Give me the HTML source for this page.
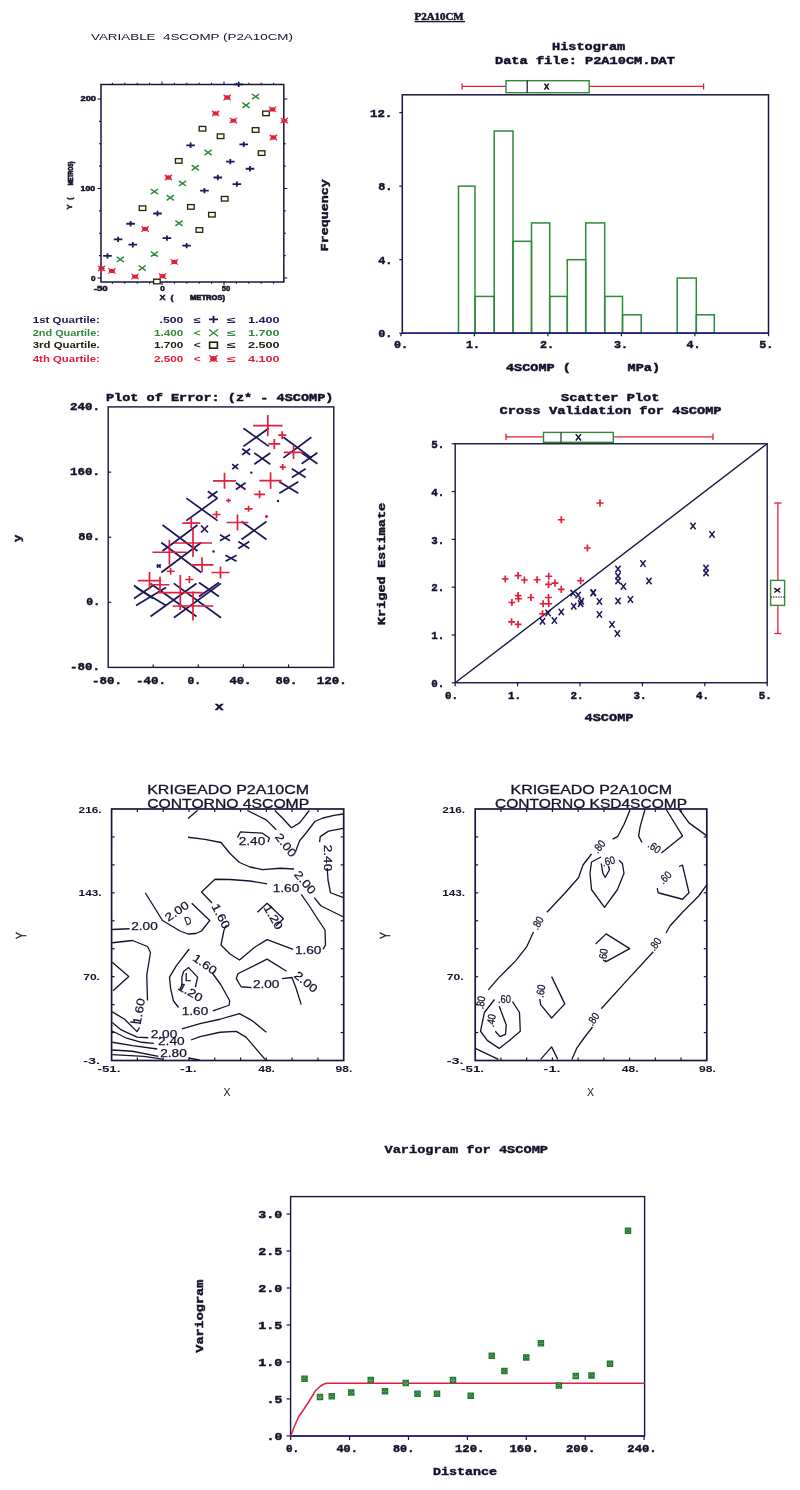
<!DOCTYPE html>
<html><head><meta charset="utf-8"><title>P2A10CM</title>
<style>
html,body{margin:0;padding:0;background:#fff;}
body{width:800px;height:1490px;overflow:hidden;}
svg{display:block;}
</style></head>
<body>
<svg width="800" height="1490" viewBox="0 0 800 1490">
<rect x="0" y="0" width="800" height="1490" fill="#ffffff"/>
<text x="414.6" y="20" font-size="10" font-family="'Liberation Serif', 'DejaVu Serif', serif" fill="#15112a" stroke="#15112a" stroke-width="0.45" font-weight="bold" textLength="49" lengthAdjust="spacingAndGlyphs" xml:space="preserve">P2A10CM</text>
<line x1="414.6" y1="21.6" x2="465" y2="21.6" stroke="#15112a" stroke-width="1.1"/>
<text x="91" y="40.2" font-size="9.8" font-family="'Liberation Sans', 'DejaVu Sans', sans-serif" fill="#15112a" textLength="202" lengthAdjust="spacingAndGlyphs" xml:space="preserve">VARIABLE  4SCOMP (P2A10CM)</text>
<rect x="101" y="84.5" width="182.8" height="197.5" stroke="#1a1540" stroke-width="1.5" fill="none"/>
<line x1="97.5" y1="278" x2="101" y2="278" stroke="#1a1540" stroke-width="1.1"/>
<line x1="283.8" y1="278" x2="287.3" y2="278" stroke="#1a1540" stroke-width="1.1"/>
<line x1="99" y1="255.62" x2="101" y2="255.62" stroke="#1a1540" stroke-width="1.1"/>
<line x1="283.8" y1="255.62" x2="285.8" y2="255.62" stroke="#1a1540" stroke-width="1.1"/>
<line x1="99" y1="233.25" x2="101" y2="233.25" stroke="#1a1540" stroke-width="1.1"/>
<line x1="283.8" y1="233.25" x2="285.8" y2="233.25" stroke="#1a1540" stroke-width="1.1"/>
<line x1="99" y1="210.88" x2="101" y2="210.88" stroke="#1a1540" stroke-width="1.1"/>
<line x1="283.8" y1="210.88" x2="285.8" y2="210.88" stroke="#1a1540" stroke-width="1.1"/>
<line x1="97.5" y1="188.5" x2="101" y2="188.5" stroke="#1a1540" stroke-width="1.1"/>
<line x1="283.8" y1="188.5" x2="287.3" y2="188.5" stroke="#1a1540" stroke-width="1.1"/>
<line x1="99" y1="166.12" x2="101" y2="166.12" stroke="#1a1540" stroke-width="1.1"/>
<line x1="283.8" y1="166.12" x2="285.8" y2="166.12" stroke="#1a1540" stroke-width="1.1"/>
<line x1="99" y1="143.75" x2="101" y2="143.75" stroke="#1a1540" stroke-width="1.1"/>
<line x1="283.8" y1="143.75" x2="285.8" y2="143.75" stroke="#1a1540" stroke-width="1.1"/>
<line x1="99" y1="121.38" x2="101" y2="121.38" stroke="#1a1540" stroke-width="1.1"/>
<line x1="283.8" y1="121.38" x2="285.8" y2="121.38" stroke="#1a1540" stroke-width="1.1"/>
<line x1="97.5" y1="99" x2="101" y2="99" stroke="#1a1540" stroke-width="1.1"/>
<line x1="283.8" y1="99" x2="287.3" y2="99" stroke="#1a1540" stroke-width="1.1"/>
<line x1="112.4" y1="282" x2="112.4" y2="283.8" stroke="#1a1540" stroke-width="1.1"/>
<line x1="112.4" y1="84.5" x2="112.4" y2="82.7" stroke="#1a1540" stroke-width="1.1"/>
<line x1="124.8" y1="282" x2="124.8" y2="283.8" stroke="#1a1540" stroke-width="1.1"/>
<line x1="124.8" y1="84.5" x2="124.8" y2="82.7" stroke="#1a1540" stroke-width="1.1"/>
<line x1="137.2" y1="282" x2="137.2" y2="283.8" stroke="#1a1540" stroke-width="1.1"/>
<line x1="137.2" y1="84.5" x2="137.2" y2="82.7" stroke="#1a1540" stroke-width="1.1"/>
<line x1="149.6" y1="282" x2="149.6" y2="283.8" stroke="#1a1540" stroke-width="1.1"/>
<line x1="149.6" y1="84.5" x2="149.6" y2="82.7" stroke="#1a1540" stroke-width="1.1"/>
<line x1="162" y1="282" x2="162" y2="285" stroke="#1a1540" stroke-width="1.1"/>
<line x1="162" y1="84.5" x2="162" y2="81.5" stroke="#1a1540" stroke-width="1.1"/>
<line x1="174.4" y1="282" x2="174.4" y2="283.8" stroke="#1a1540" stroke-width="1.1"/>
<line x1="174.4" y1="84.5" x2="174.4" y2="82.7" stroke="#1a1540" stroke-width="1.1"/>
<line x1="186.8" y1="282" x2="186.8" y2="283.8" stroke="#1a1540" stroke-width="1.1"/>
<line x1="186.8" y1="84.5" x2="186.8" y2="82.7" stroke="#1a1540" stroke-width="1.1"/>
<line x1="199.2" y1="282" x2="199.2" y2="283.8" stroke="#1a1540" stroke-width="1.1"/>
<line x1="199.2" y1="84.5" x2="199.2" y2="82.7" stroke="#1a1540" stroke-width="1.1"/>
<line x1="211.6" y1="282" x2="211.6" y2="283.8" stroke="#1a1540" stroke-width="1.1"/>
<line x1="211.6" y1="84.5" x2="211.6" y2="82.7" stroke="#1a1540" stroke-width="1.1"/>
<line x1="224" y1="282" x2="224" y2="285" stroke="#1a1540" stroke-width="1.1"/>
<line x1="224" y1="84.5" x2="224" y2="81.5" stroke="#1a1540" stroke-width="1.1"/>
<line x1="236.4" y1="282" x2="236.4" y2="283.8" stroke="#1a1540" stroke-width="1.1"/>
<line x1="236.4" y1="84.5" x2="236.4" y2="82.7" stroke="#1a1540" stroke-width="1.1"/>
<line x1="248.8" y1="282" x2="248.8" y2="283.8" stroke="#1a1540" stroke-width="1.1"/>
<line x1="248.8" y1="84.5" x2="248.8" y2="82.7" stroke="#1a1540" stroke-width="1.1"/>
<line x1="261.2" y1="282" x2="261.2" y2="283.8" stroke="#1a1540" stroke-width="1.1"/>
<line x1="261.2" y1="84.5" x2="261.2" y2="82.7" stroke="#1a1540" stroke-width="1.1"/>
<line x1="273.6" y1="282" x2="273.6" y2="283.8" stroke="#1a1540" stroke-width="1.1"/>
<line x1="273.6" y1="84.5" x2="273.6" y2="82.7" stroke="#1a1540" stroke-width="1.1"/>
<text x="80.5" y="101.2" font-size="7.5" font-family="'Liberation Sans', 'DejaVu Sans', sans-serif" fill="#15112a" stroke="#15112a" stroke-width="0.5" font-weight="bold" textLength="15.5" lengthAdjust="spacingAndGlyphs" xml:space="preserve">200</text>
<text x="80.6" y="191.2" font-size="7.5" font-family="'Liberation Sans', 'DejaVu Sans', sans-serif" fill="#15112a" stroke="#15112a" stroke-width="0.5" font-weight="bold" textLength="14.6" lengthAdjust="spacingAndGlyphs" xml:space="preserve">100</text>
<text x="91" y="280.8" font-size="7.5" font-family="'Liberation Sans', 'DejaVu Sans', sans-serif" fill="#15112a" stroke="#15112a" stroke-width="0.5" font-weight="bold" textLength="4.5" lengthAdjust="spacingAndGlyphs" xml:space="preserve">0</text>
<text x="93.7" y="291.4" font-size="7.5" font-family="'Liberation Sans', 'DejaVu Sans', sans-serif" fill="#15112a" stroke="#15112a" stroke-width="0.5" font-weight="bold" textLength="14" lengthAdjust="spacingAndGlyphs" xml:space="preserve">-50</text>
<text x="160.3" y="291.4" font-size="7.5" font-family="'Liberation Sans', 'DejaVu Sans', sans-serif" fill="#15112a" stroke="#15112a" stroke-width="0.5" font-weight="bold" textLength="4.5" lengthAdjust="spacingAndGlyphs" xml:space="preserve">0</text>
<text x="221.7" y="291.4" font-size="7.5" font-family="'Liberation Sans', 'DejaVu Sans', sans-serif" fill="#15112a" stroke="#15112a" stroke-width="0.5" font-weight="bold" textLength="8.5" lengthAdjust="spacingAndGlyphs" xml:space="preserve">50</text>
<text x="159.5" y="300.3" font-size="7" font-family="'Liberation Sans', 'DejaVu Sans', sans-serif" fill="#15112a" stroke="#15112a" stroke-width="0.4" font-weight="bold" textLength="14" lengthAdjust="spacingAndGlyphs" xml:space="preserve">X  (</text>
<text x="190" y="300.3" font-size="7" font-family="'Liberation Sans', 'DejaVu Sans', sans-serif" fill="#15112a" stroke="#15112a" stroke-width="0.6" font-weight="bold" textLength="35" lengthAdjust="spacingAndGlyphs" xml:space="preserve">METROS)</text>
<text x="72.5" y="209.4" font-size="7" font-family="'Liberation Sans', 'DejaVu Sans', sans-serif" fill="#15112a" stroke="#15112a" stroke-width="0.4" font-weight="bold" textLength="12" lengthAdjust="spacingAndGlyphs" transform="rotate(-90 72.5 209.4)" xml:space="preserve">Y  (</text>
<text x="72.8" y="185.2" font-size="7" font-family="'Liberation Sans', 'DejaVu Sans', sans-serif" fill="#15112a" stroke="#15112a" stroke-width="0.7" font-weight="bold" textLength="23.6" lengthAdjust="spacingAndGlyphs" transform="rotate(-90 72.8 185.2)" xml:space="preserve">METROS)</text>
<path d="M103.2 255.9H111.8M107.5 253.2V258.6" stroke="#1f165c" stroke-width="1.8"/>
<path d="M113.8 239.4H122.4M118.1 236.7V242.1" stroke="#1f165c" stroke-width="1.8"/>
<path d="M126.3 223.75H134.9M130.6 221.05V226.45" stroke="#1f165c" stroke-width="1.8"/>
<path d="M128.5 244.7H137.1M132.8 242V247.4" stroke="#1f165c" stroke-width="1.8"/>
<path d="M153.2 213.5H161.8M157.5 210.8V216.2" stroke="#1f165c" stroke-width="1.8"/>
<path d="M162.6 238.1H171.2M166.9 235.4V240.8" stroke="#1f165c" stroke-width="1.8"/>
<path d="M182.3 245.6H190.9M186.6 242.9V248.3" stroke="#1f165c" stroke-width="1.8"/>
<path d="M186.3 145.3H194.9M190.6 142.6V148" stroke="#1f165c" stroke-width="1.8"/>
<path d="M200.1 190.6H208.7M204.4 187.9V193.3" stroke="#1f165c" stroke-width="1.8"/>
<path d="M213.5 177.5H222.1M217.8 174.8V180.2" stroke="#1f165c" stroke-width="1.8"/>
<path d="M226 161.6H234.6M230.3 158.9V164.3" stroke="#1f165c" stroke-width="1.8"/>
<path d="M232.6 184.1H241.2M236.9 181.4V186.8" stroke="#1f165c" stroke-width="1.8"/>
<path d="M239.45 144.4H248.05M243.75 141.7V147.1" stroke="#1f165c" stroke-width="1.8"/>
<path d="M245.7 168.75H254.3M250 166.05V171.45" stroke="#1f165c" stroke-width="1.8"/>
<path d="M234.45 84.4H243.05M238.75 81.7V87.1" stroke="#1f165c" stroke-width="1.8"/>
<path d="M116.7 256.8L123.9 262M116.7 262L123.9 256.8" stroke="#2f8a3a" stroke-width="1.5"/>
<path d="M138.6 265.5L145.8 270.7M138.6 270.7L145.8 265.5" stroke="#2f8a3a" stroke-width="1.5"/>
<path d="M150.8 251.5L158 256.7M150.8 256.7L158 251.5" stroke="#2f8a3a" stroke-width="1.5"/>
<path d="M150.8 189L158 194.2M150.8 194.2L158 189" stroke="#2f8a3a" stroke-width="1.5"/>
<path d="M166.7 195.2L173.9 200.4M166.7 200.4L173.9 195.2" stroke="#2f8a3a" stroke-width="1.5"/>
<path d="M175.4 220.6L182.6 225.8M175.4 225.8L182.6 220.6" stroke="#2f8a3a" stroke-width="1.5"/>
<path d="M178.9 180.8L186.1 186M178.9 186L186.1 180.8" stroke="#2f8a3a" stroke-width="1.5"/>
<path d="M191.7 165.2L198.9 170.4M191.7 170.4L198.9 165.2" stroke="#2f8a3a" stroke-width="1.5"/>
<path d="M204.5 149.9L211.7 155.1M204.5 155.1L211.7 149.9" stroke="#2f8a3a" stroke-width="1.5"/>
<path d="M242.4 102.7L249.6 107.9M242.4 107.9L249.6 102.7" stroke="#2f8a3a" stroke-width="1.5"/>
<path d="M252 94L259.2 99.2M252 99.2L259.2 94" stroke="#2f8a3a" stroke-width="1.5"/>
<rect x="139.2" y="205.9" width="6.6" height="4.6" stroke="#23210f" stroke-width="1.3" fill="#fdfbe6"/>
<rect x="153.6" y="279.2" width="6.6" height="4.6" stroke="#23210f" stroke-width="1.3" fill="#fdfbe6"/>
<rect x="175.45" y="158.6" width="6.6" height="4.6" stroke="#23210f" stroke-width="1.3" fill="#fdfbe6"/>
<rect x="187.6" y="204.6" width="6.6" height="4.6" stroke="#23210f" stroke-width="1.3" fill="#fdfbe6"/>
<rect x="196.1" y="227.7" width="6.6" height="4.6" stroke="#23210f" stroke-width="1.3" fill="#fdfbe6"/>
<rect x="199.2" y="126.45" width="6.6" height="4.6" stroke="#23210f" stroke-width="1.3" fill="#fdfbe6"/>
<rect x="208.6" y="212.4" width="6.6" height="4.6" stroke="#23210f" stroke-width="1.3" fill="#fdfbe6"/>
<rect x="217.3" y="133.95" width="6.6" height="4.6" stroke="#23210f" stroke-width="1.3" fill="#fdfbe6"/>
<rect x="221.4" y="196.45" width="6.6" height="4.6" stroke="#23210f" stroke-width="1.3" fill="#fdfbe6"/>
<rect x="252.3" y="127.7" width="6.6" height="4.6" stroke="#23210f" stroke-width="1.3" fill="#fdfbe6"/>
<rect x="258.3" y="150.8" width="6.6" height="4.6" stroke="#23210f" stroke-width="1.3" fill="#fdfbe6"/>
<rect x="262.7" y="111.1" width="6.6" height="4.6" stroke="#23210f" stroke-width="1.3" fill="#fdfbe6"/>
<ellipse cx="101.5" cy="268.4" rx="3.0" ry="2.2" fill="#e0203c"/>
<path d="M97.8 265.7L105.2 271.1M97.8 271.1L105.2 265.7" stroke="#e0203c" stroke-width="1.1"/>
<ellipse cx="111.9" cy="270.9" rx="3.0" ry="2.2" fill="#e0203c"/>
<path d="M108.2 268.2L115.6 273.6M108.2 273.6L115.6 268.2" stroke="#e0203c" stroke-width="1.1"/>
<ellipse cx="135" cy="276.6" rx="3.0" ry="2.2" fill="#e0203c"/>
<path d="M131.3 273.9L138.7 279.3M131.3 279.3L138.7 273.9" stroke="#e0203c" stroke-width="1.1"/>
<ellipse cx="145.1" cy="229" rx="3.0" ry="2.2" fill="#e0203c"/>
<path d="M141.4 226.3L148.8 231.7M141.4 231.7L148.8 226.3" stroke="#e0203c" stroke-width="1.1"/>
<ellipse cx="162.5" cy="276.25" rx="3.0" ry="2.2" fill="#e0203c"/>
<path d="M158.8 273.55L166.2 278.95M158.8 278.95L166.2 273.55" stroke="#e0203c" stroke-width="1.1"/>
<ellipse cx="168.4" cy="177.5" rx="3.0" ry="2.2" fill="#e0203c"/>
<path d="M164.7 174.8L172.1 180.2M164.7 180.2L172.1 174.8" stroke="#e0203c" stroke-width="1.1"/>
<ellipse cx="174.4" cy="261.9" rx="3.0" ry="2.2" fill="#e0203c"/>
<path d="M170.7 259.2L178.1 264.6M170.7 264.6L178.1 259.2" stroke="#e0203c" stroke-width="1.1"/>
<ellipse cx="215.6" cy="113.4" rx="3.0" ry="2.2" fill="#e0203c"/>
<path d="M211.9 110.7L219.3 116.1M211.9 116.1L219.3 110.7" stroke="#e0203c" stroke-width="1.1"/>
<ellipse cx="227.2" cy="97.5" rx="3.0" ry="2.2" fill="#e0203c"/>
<path d="M223.5 94.8L230.9 100.2M223.5 100.2L230.9 94.8" stroke="#e0203c" stroke-width="1.1"/>
<ellipse cx="233.4" cy="120.6" rx="3.0" ry="2.2" fill="#e0203c"/>
<path d="M229.7 117.9L237.1 123.3M229.7 123.3L237.1 117.9" stroke="#e0203c" stroke-width="1.1"/>
<ellipse cx="272.5" cy="109.4" rx="3.0" ry="2.2" fill="#e0203c"/>
<path d="M268.8 106.7L276.2 112.1M268.8 112.1L276.2 106.7" stroke="#e0203c" stroke-width="1.1"/>
<ellipse cx="273.4" cy="137.5" rx="3.0" ry="2.2" fill="#e0203c"/>
<path d="M269.7 134.8L277.1 140.2M269.7 140.2L277.1 134.8" stroke="#e0203c" stroke-width="1.1"/>
<ellipse cx="284.4" cy="120.6" rx="3.0" ry="2.2" fill="#e0203c"/>
<path d="M280.7 117.9L288.1 123.3M280.7 123.3L288.1 117.9" stroke="#e0203c" stroke-width="1.1"/>
<text x="32.8" y="322.5" font-size="8.4" font-family="'Liberation Sans', 'DejaVu Sans', sans-serif" fill="#1f165c" font-weight="bold" textLength="67" lengthAdjust="spacingAndGlyphs" xml:space="preserve">1st Quartile:</text>
<text x="159.6" y="322.5" font-size="8.4" font-family="'Liberation Sans', 'DejaVu Sans', sans-serif" fill="#1f165c" font-weight="bold" textLength="23.7" lengthAdjust="spacingAndGlyphs" xml:space="preserve">.500</text>
<text x="193.7" y="322.5" font-size="8.4" font-family="'Liberation Sans', 'DejaVu Sans', sans-serif" fill="#1f165c" font-weight="bold" textLength="7" lengthAdjust="spacingAndGlyphs" xml:space="preserve">≤</text>
<text x="227" y="322.5" font-size="8.4" font-family="'Liberation Sans', 'DejaVu Sans', sans-serif" fill="#1f165c" font-weight="bold" textLength="8.8" lengthAdjust="spacingAndGlyphs" xml:space="preserve">≤</text>
<text x="248" y="322.5" font-size="8.4" font-family="'Liberation Sans', 'DejaVu Sans', sans-serif" fill="#1f165c" font-weight="bold" textLength="31.5" lengthAdjust="spacingAndGlyphs" xml:space="preserve">1.400</text>
<path d="M209 319.3H218M213.5 315.7V322.9" stroke="#1f165c" stroke-width="1.8"/>
<text x="32.8" y="336" font-size="8.4" font-family="'Liberation Sans', 'DejaVu Sans', sans-serif" fill="#2f8a3a" font-weight="bold" textLength="67" lengthAdjust="spacingAndGlyphs" xml:space="preserve">2nd Quartile:</text>
<text x="153.9" y="336" font-size="8.4" font-family="'Liberation Sans', 'DejaVu Sans', sans-serif" fill="#2f8a3a" font-weight="bold" textLength="29.4" lengthAdjust="spacingAndGlyphs" xml:space="preserve">1.400</text>
<text x="193.7" y="336" font-size="8.4" font-family="'Liberation Sans', 'DejaVu Sans', sans-serif" fill="#2f8a3a" font-weight="bold" textLength="7" lengthAdjust="spacingAndGlyphs" xml:space="preserve">&lt;</text>
<text x="227" y="336" font-size="8.4" font-family="'Liberation Sans', 'DejaVu Sans', sans-serif" fill="#2f8a3a" font-weight="bold" textLength="8.8" lengthAdjust="spacingAndGlyphs" xml:space="preserve">≤</text>
<text x="248" y="336" font-size="8.4" font-family="'Liberation Sans', 'DejaVu Sans', sans-serif" fill="#2f8a3a" font-weight="bold" textLength="31.5" lengthAdjust="spacingAndGlyphs" xml:space="preserve">1.700</text>
<path d="M209 329.4L218 336.2M209 336.2L218 329.4" stroke="#2f8a3a" stroke-width="1.3"/>
<text x="32.8" y="348.4" font-size="8.4" font-family="'Liberation Sans', 'DejaVu Sans', sans-serif" fill="#23210f" font-weight="bold" textLength="67" lengthAdjust="spacingAndGlyphs" xml:space="preserve">3rd Quartile.</text>
<text x="153.9" y="348.4" font-size="8.4" font-family="'Liberation Sans', 'DejaVu Sans', sans-serif" fill="#23210f" font-weight="bold" textLength="29.4" lengthAdjust="spacingAndGlyphs" xml:space="preserve">1.700</text>
<text x="193.7" y="348.4" font-size="8.4" font-family="'Liberation Sans', 'DejaVu Sans', sans-serif" fill="#23210f" font-weight="bold" textLength="7" lengthAdjust="spacingAndGlyphs" xml:space="preserve">&lt;</text>
<text x="227" y="348.4" font-size="8.4" font-family="'Liberation Sans', 'DejaVu Sans', sans-serif" fill="#23210f" font-weight="bold" textLength="8.8" lengthAdjust="spacingAndGlyphs" xml:space="preserve">≤</text>
<text x="248" y="348.4" font-size="8.4" font-family="'Liberation Sans', 'DejaVu Sans', sans-serif" fill="#23210f" font-weight="bold" textLength="31.5" lengthAdjust="spacingAndGlyphs" xml:space="preserve">2.500</text>
<rect x="209.6" y="342.2" width="7.8" height="6" stroke="#23210f" stroke-width="1.6" fill="#fdfbe6"/>
<text x="32.8" y="361.9" font-size="8.4" font-family="'Liberation Sans', 'DejaVu Sans', sans-serif" fill="#e0203c" font-weight="bold" textLength="67" lengthAdjust="spacingAndGlyphs" xml:space="preserve">4th Quartile:</text>
<text x="153.9" y="361.9" font-size="8.4" font-family="'Liberation Sans', 'DejaVu Sans', sans-serif" fill="#e0203c" font-weight="bold" textLength="29.4" lengthAdjust="spacingAndGlyphs" xml:space="preserve">2.500</text>
<text x="193.7" y="361.9" font-size="8.4" font-family="'Liberation Sans', 'DejaVu Sans', sans-serif" fill="#e0203c" font-weight="bold" textLength="7" lengthAdjust="spacingAndGlyphs" xml:space="preserve">&lt;</text>
<text x="227" y="361.9" font-size="8.4" font-family="'Liberation Sans', 'DejaVu Sans', sans-serif" fill="#e0203c" font-weight="bold" textLength="8.8" lengthAdjust="spacingAndGlyphs" xml:space="preserve">≤</text>
<text x="248" y="361.9" font-size="8.4" font-family="'Liberation Sans', 'DejaVu Sans', sans-serif" fill="#e0203c" font-weight="bold" textLength="31.5" lengthAdjust="spacingAndGlyphs" xml:space="preserve">4.100</text>
<ellipse cx="213.5" cy="358.7" rx="3.4" ry="2.8" fill="#e0203c"/>
<path d="M209.3 355.3L217.7 362.1M209.3 362.1L217.7 355.3" stroke="#e0203c" stroke-width="1.2"/>
<text x="552" y="50.1" font-size="11" font-family="'Liberation Mono', 'DejaVu Sans Mono', monospace" fill="#15112a" stroke="#15112a" stroke-width="0.45" font-weight="bold" textLength="73.2" lengthAdjust="spacingAndGlyphs" xml:space="preserve">Histogram</text>
<text x="495" y="63.6" font-size="11" font-family="'Liberation Mono', 'DejaVu Sans Mono', monospace" fill="#15112a" stroke="#15112a" stroke-width="0.45" font-weight="bold" textLength="180" lengthAdjust="spacingAndGlyphs" xml:space="preserve">Data file: P2A10CM.DAT</text>
<rect x="458.5" y="186.16" width="16.5" height="147.04" stroke="#2f8a3a" stroke-width="1.5" fill="none"/>
<rect x="475" y="296.44" width="19.2" height="36.76" stroke="#2f8a3a" stroke-width="1.5" fill="none"/>
<rect x="494.2" y="131.02" width="18.8" height="202.18" stroke="#2f8a3a" stroke-width="1.5" fill="none"/>
<rect x="513" y="241.3" width="18.5" height="91.9" stroke="#2f8a3a" stroke-width="1.5" fill="none"/>
<rect x="531.5" y="222.92" width="18.2" height="110.28" stroke="#2f8a3a" stroke-width="1.5" fill="none"/>
<rect x="549.7" y="296.44" width="17.6" height="36.76" stroke="#2f8a3a" stroke-width="1.5" fill="none"/>
<rect x="567.3" y="259.68" width="18.4" height="73.52" stroke="#2f8a3a" stroke-width="1.5" fill="none"/>
<rect x="585.7" y="222.92" width="19" height="110.28" stroke="#2f8a3a" stroke-width="1.5" fill="none"/>
<rect x="604.7" y="296.44" width="17.8" height="36.76" stroke="#2f8a3a" stroke-width="1.5" fill="none"/>
<rect x="622.5" y="314.82" width="18.7" height="18.38" stroke="#2f8a3a" stroke-width="1.5" fill="none"/>
<rect x="677.2" y="278.06" width="19.1" height="55.14" stroke="#2f8a3a" stroke-width="1.5" fill="none"/>
<rect x="696.3" y="314.82" width="18" height="18.38" stroke="#2f8a3a" stroke-width="1.5" fill="none"/>
<rect x="402.3" y="94.8" width="366.2" height="238.4" stroke="#1a1540" stroke-width="1.5" fill="none"/>
<line x1="402.3" y1="333.2" x2="768.5" y2="333.2" stroke="#2a1a8a" stroke-width="1.6"/>
<line x1="399.3" y1="333.2" x2="402.3" y2="333.2" stroke="#1a1540" stroke-width="1.2"/>
<line x1="399.3" y1="259.68" x2="402.3" y2="259.68" stroke="#1a1540" stroke-width="1.2"/>
<line x1="399.3" y1="186.16" x2="402.3" y2="186.16" stroke="#1a1540" stroke-width="1.2"/>
<line x1="399.3" y1="112.64" x2="402.3" y2="112.64" stroke="#1a1540" stroke-width="1.2"/>
<line x1="400.9" y1="333.2" x2="400.9" y2="336.2" stroke="#1a1540" stroke-width="1.2"/>
<line x1="474.4" y1="333.2" x2="474.4" y2="336.2" stroke="#1a1540" stroke-width="1.2"/>
<line x1="547.9" y1="333.2" x2="547.9" y2="336.2" stroke="#1a1540" stroke-width="1.2"/>
<line x1="621.4" y1="333.2" x2="621.4" y2="336.2" stroke="#1a1540" stroke-width="1.2"/>
<line x1="694.9" y1="333.2" x2="694.9" y2="336.2" stroke="#1a1540" stroke-width="1.2"/>
<line x1="768.5" y1="333.2" x2="768.5" y2="336.2" stroke="#1a1540" stroke-width="1.2"/>
<text x="370" y="116.6" font-size="11" font-family="'Liberation Mono', 'DejaVu Sans Mono', monospace" fill="#15112a" stroke="#15112a" stroke-width="0.45" font-weight="bold" textLength="22.3" lengthAdjust="spacingAndGlyphs" xml:space="preserve">12.</text>
<text x="378.2" y="190.3" font-size="11" font-family="'Liberation Mono', 'DejaVu Sans Mono', monospace" fill="#15112a" stroke="#15112a" stroke-width="0.45" font-weight="bold" textLength="14.2" lengthAdjust="spacingAndGlyphs" xml:space="preserve">8.</text>
<text x="378.2" y="264.2" font-size="11" font-family="'Liberation Mono', 'DejaVu Sans Mono', monospace" fill="#15112a" stroke="#15112a" stroke-width="0.45" font-weight="bold" textLength="14.2" lengthAdjust="spacingAndGlyphs" xml:space="preserve">4.</text>
<text x="378.2" y="337" font-size="11" font-family="'Liberation Mono', 'DejaVu Sans Mono', monospace" fill="#15112a" stroke="#15112a" stroke-width="0.45" font-weight="bold" textLength="14.2" lengthAdjust="spacingAndGlyphs" xml:space="preserve">0.</text>
<text x="394" y="348" font-size="11" font-family="'Liberation Mono', 'DejaVu Sans Mono', monospace" fill="#15112a" stroke="#15112a" stroke-width="0.45" font-weight="bold" textLength="14" lengthAdjust="spacingAndGlyphs" xml:space="preserve">0.</text>
<text x="466" y="348" font-size="11" font-family="'Liberation Mono', 'DejaVu Sans Mono', monospace" fill="#15112a" stroke="#15112a" stroke-width="0.45" font-weight="bold" textLength="14" lengthAdjust="spacingAndGlyphs" xml:space="preserve">1.</text>
<text x="540" y="348" font-size="11" font-family="'Liberation Mono', 'DejaVu Sans Mono', monospace" fill="#15112a" stroke="#15112a" stroke-width="0.45" font-weight="bold" textLength="14" lengthAdjust="spacingAndGlyphs" xml:space="preserve">2.</text>
<text x="614" y="348" font-size="11" font-family="'Liberation Mono', 'DejaVu Sans Mono', monospace" fill="#15112a" stroke="#15112a" stroke-width="0.45" font-weight="bold" textLength="14" lengthAdjust="spacingAndGlyphs" xml:space="preserve">3.</text>
<text x="686.6" y="348" font-size="11" font-family="'Liberation Mono', 'DejaVu Sans Mono', monospace" fill="#15112a" stroke="#15112a" stroke-width="0.45" font-weight="bold" textLength="14" lengthAdjust="spacingAndGlyphs" xml:space="preserve">4.</text>
<text x="759.3" y="348" font-size="11" font-family="'Liberation Mono', 'DejaVu Sans Mono', monospace" fill="#15112a" stroke="#15112a" stroke-width="0.45" font-weight="bold" textLength="14" lengthAdjust="spacingAndGlyphs" xml:space="preserve">5.</text>
<text x="328" y="251.2" font-size="11" font-family="'Liberation Mono', 'DejaVu Sans Mono', monospace" fill="#15112a" stroke="#15112a" stroke-width="0.45" font-weight="bold" textLength="72" lengthAdjust="spacingAndGlyphs" transform="rotate(-90 328 251.2)" xml:space="preserve">Frequency</text>
<text x="506" y="370.8" font-size="10.5" font-family="'Liberation Mono', 'DejaVu Sans Mono', monospace" fill="#15112a" stroke="#15112a" stroke-width="0.45" font-weight="bold" textLength="154" lengthAdjust="spacingAndGlyphs" xml:space="preserve">4SCOMP (       MPa)</text>
<line x1="462.1" y1="86.4" x2="703.6" y2="86.4" stroke="#e0203c" stroke-width="1.3"/>
<line x1="462.1" y1="83.4" x2="462.1" y2="89.6" stroke="#e0203c" stroke-width="1.3"/>
<line x1="703.6" y1="83.4" x2="703.6" y2="89.6" stroke="#e0203c" stroke-width="1.3"/>
<rect x="506" y="80.7" width="83.2" height="12" stroke="#2f8a3a" stroke-width="1.4" fill="#ffffff"/>
<line x1="527.2" y1="80.7" x2="527.2" y2="92.7" stroke="#15112a" stroke-width="1.2"/>
<path d="M544.4 83.6L548.8 89.6M544.4 89.6L548.8 83.6" stroke="#15112a" stroke-width="1.6"/>
<text x="106" y="400.8" font-size="11" font-family="'Liberation Mono', 'DejaVu Sans Mono', monospace" fill="#15112a" stroke="#15112a" stroke-width="0.45" font-weight="bold" textLength="227.5" lengthAdjust="spacingAndGlyphs" xml:space="preserve">Plot of Error: (z* - 4SCOMP)</text>
<rect x="108.2" y="406.9" width="225.6" height="260.5" stroke="#1a1540" stroke-width="1.4" fill="none"/>
<line x1="153.17" y1="667.4" x2="153.17" y2="664.4" stroke="#1a1540" stroke-width="1.2"/>
<line x1="198.3" y1="667.4" x2="198.3" y2="664.4" stroke="#1a1540" stroke-width="1.2"/>
<line x1="243.43" y1="667.4" x2="243.43" y2="664.4" stroke="#1a1540" stroke-width="1.2"/>
<line x1="288.56" y1="667.4" x2="288.56" y2="664.4" stroke="#1a1540" stroke-width="1.2"/>
<line x1="108.2" y1="602.3" x2="111.2" y2="602.3" stroke="#1a1540" stroke-width="1.2"/>
<line x1="108.2" y1="537.23" x2="111.2" y2="537.23" stroke="#1a1540" stroke-width="1.2"/>
<line x1="108.2" y1="472.16" x2="111.2" y2="472.16" stroke="#1a1540" stroke-width="1.2"/>
<text x="70.1" y="409.88" font-size="11" font-family="'Liberation Mono', 'DejaVu Sans Mono', monospace" fill="#15112a" stroke="#15112a" stroke-width="0.45" font-weight="bold" textLength="29.9" lengthAdjust="spacingAndGlyphs" xml:space="preserve">240.</text>
<text x="70.1" y="474.96" font-size="11" font-family="'Liberation Mono', 'DejaVu Sans Mono', monospace" fill="#15112a" stroke="#15112a" stroke-width="0.45" font-weight="bold" textLength="29.9" lengthAdjust="spacingAndGlyphs" xml:space="preserve">160.</text>
<text x="78.2" y="540.03" font-size="11" font-family="'Liberation Mono', 'DejaVu Sans Mono', monospace" fill="#15112a" stroke="#15112a" stroke-width="0.45" font-weight="bold" textLength="21.8" lengthAdjust="spacingAndGlyphs" xml:space="preserve">80.</text>
<text x="86.3" y="605.1" font-size="11" font-family="'Liberation Mono', 'DejaVu Sans Mono', monospace" fill="#15112a" stroke="#15112a" stroke-width="0.45" font-weight="bold" textLength="13.7" lengthAdjust="spacingAndGlyphs" xml:space="preserve">0.</text>
<text x="70.1" y="670.17" font-size="11" font-family="'Liberation Mono', 'DejaVu Sans Mono', monospace" fill="#15112a" stroke="#15112a" stroke-width="0.45" font-weight="bold" textLength="29.9" lengthAdjust="spacingAndGlyphs" xml:space="preserve">-80.</text>
<text x="92" y="684.3" font-size="11" font-family="'Liberation Mono', 'DejaVu Sans Mono', monospace" fill="#15112a" stroke="#15112a" stroke-width="0.45" font-weight="bold" textLength="29.9" lengthAdjust="spacingAndGlyphs" xml:space="preserve">-80.</text>
<text x="136" y="684.3" font-size="11" font-family="'Liberation Mono', 'DejaVu Sans Mono', monospace" fill="#15112a" stroke="#15112a" stroke-width="0.45" font-weight="bold" textLength="29.9" lengthAdjust="spacingAndGlyphs" xml:space="preserve">-40.</text>
<text x="187.5" y="684.3" font-size="11" font-family="'Liberation Mono', 'DejaVu Sans Mono', monospace" fill="#15112a" stroke="#15112a" stroke-width="0.45" font-weight="bold" textLength="13.7" lengthAdjust="spacingAndGlyphs" xml:space="preserve">0.</text>
<text x="229.5" y="684.3" font-size="11" font-family="'Liberation Mono', 'DejaVu Sans Mono', monospace" fill="#15112a" stroke="#15112a" stroke-width="0.45" font-weight="bold" textLength="21.8" lengthAdjust="spacingAndGlyphs" xml:space="preserve">40.</text>
<text x="275.6" y="684.3" font-size="11" font-family="'Liberation Mono', 'DejaVu Sans Mono', monospace" fill="#15112a" stroke="#15112a" stroke-width="0.45" font-weight="bold" textLength="21.8" lengthAdjust="spacingAndGlyphs" xml:space="preserve">80.</text>
<text x="316.8" y="684.3" font-size="11" font-family="'Liberation Mono', 'DejaVu Sans Mono', monospace" fill="#15112a" stroke="#15112a" stroke-width="0.45" font-weight="bold" textLength="29.9" lengthAdjust="spacingAndGlyphs" xml:space="preserve">120.</text>
<text x="214.7" y="709.6" font-size="11" font-family="'Liberation Mono', 'DejaVu Sans Mono', monospace" fill="#15112a" stroke="#15112a" stroke-width="0.45" font-weight="bold" textLength="9" lengthAdjust="spacingAndGlyphs" xml:space="preserve">x</text>
<text x="21.2" y="542" font-size="11" font-family="'Liberation Mono', 'DejaVu Sans Mono', monospace" fill="#15112a" stroke="#15112a" stroke-width="0.45" font-weight="bold" textLength="7.3" lengthAdjust="spacingAndGlyphs" transform="rotate(-90 21.2 542)" xml:space="preserve">y</text>
<path d="M243.4 428.2L268.8 446.4M243.4 446.4L268.8 428.2" stroke="#1f165c" stroke-width="1.75"/>
<path d="M283.4 437.3L311.4 457.9M283.4 457.9L311.4 437.3" stroke="#1f165c" stroke-width="1.75"/>
<path d="M301.6 452.8L317.4 463.8M301.6 463.8L317.4 452.8" stroke="#1f165c" stroke-width="1.75"/>
<path d="M242.2 448.75L250.2 454.75M242.2 454.75L250.2 448.75" stroke="#1f165c" stroke-width="1.75"/>
<path d="M254.3 453L270.3 464.2M254.3 464.2L270.3 453" stroke="#1f165c" stroke-width="1.75"/>
<path d="M232.2 464.1L238.2 469.1M232.2 469.1L238.2 464.1" stroke="#1f165c" stroke-width="1.75"/>
<path d="M291.85 468.8L305.65 477.4M291.85 477.4L305.65 468.8" stroke="#1f165c" stroke-width="1.75"/>
<path d="M279.3 481.7L298.3 493.3M279.3 493.3L298.3 481.7" stroke="#1f165c" stroke-width="1.75"/>
<path d="M235.9 482.7L245.5 489.5M235.9 489.5L245.5 482.7" stroke="#1f165c" stroke-width="1.75"/>
<path d="M207.8 491.25L217.4 498.25M207.8 498.25L217.4 491.25" stroke="#1f165c" stroke-width="1.75"/>
<path d="M186.3 498.15L217.5 520.65M186.3 520.65L217.5 498.15" stroke="#1f165c" stroke-width="1.75"/>
<path d="M241.5 521.5L266.5 539.5M241.5 539.5L266.5 521.5" stroke="#1f165c" stroke-width="1.75"/>
<path d="M162.5 525L197.5 551M162.5 551L197.5 525" stroke="#1f165c" stroke-width="1.75"/>
<path d="M161.25 542.5L201.25 572.5M161.25 572.5L201.25 542.5" stroke="#1f165c" stroke-width="1.75"/>
<path d="M201 525.5L208 532.5M201 532.5L208 525.5" stroke="#1f165c" stroke-width="1.75"/>
<path d="M156.75 564.5L160.75 567.5M156.75 567.5L160.75 564.5" stroke="#1f165c" stroke-width="1.75"/>
<path d="M220 534.8L230 540.8M220 540.8L230 534.8" stroke="#1f165c" stroke-width="1.75"/>
<path d="M238.3 541.5L249.3 548.5M238.3 548.5L249.3 541.5" stroke="#1f165c" stroke-width="1.75"/>
<path d="M225.5 555.2L236.5 561.2M225.5 561.2L236.5 555.2" stroke="#1f165c" stroke-width="1.75"/>
<path d="M134 585.5L153 598.5M134 598.5L153 585.5" stroke="#1f165c" stroke-width="1.75"/>
<path d="M136 587.5L166 605.5M136 605.5L166 587.5" stroke="#1f165c" stroke-width="1.75"/>
<path d="M150.5 583.5L196.5 616.5M150.5 616.5L196.5 583.5" stroke="#1f165c" stroke-width="1.75"/>
<path d="M173.8 583.4L221 617.8M173.8 617.8L221 583.4" stroke="#1f165c" stroke-width="1.75"/>
<path d="M199 582.5L219 596.5M199 596.5L219 582.5" stroke="#1f165c" stroke-width="1.75"/>
<path d="M253 425.6H282.6M267.8 415V436.2" stroke="#e0203c" stroke-width="1.7"/>
<path d="M278.2 435.2H286.2M282.2 431.2V439.2" stroke="#e0203c" stroke-width="1.7"/>
<path d="M268.3 443.9H280.3M274.3 438.9V448.9" stroke="#e0203c" stroke-width="1.7"/>
<path d="M283.9 452.4H303.1M293.5 445.9V458.9" stroke="#e0203c" stroke-width="1.7"/>
<path d="M279.7 467.1H285.7M282.7 464.1V470.1" stroke="#e0203c" stroke-width="1.7"/>
<path d="M259.4 480.6H281.8M270.6 472.35V488.85" stroke="#e0203c" stroke-width="1.7"/>
<path d="M254.2 494.4H265M259.6 490.6V498.2" stroke="#e0203c" stroke-width="1.7"/>
<path d="M244.6 508.8H252.6M248.6 505.8V511.8" stroke="#e0203c" stroke-width="1.7"/>
<path d="M213 480.8H236M224.5 472.8V488.8" stroke="#e0203c" stroke-width="1.7"/>
<path d="M226 500.5H231M228.5 498.5V502.5" stroke="#e0203c" stroke-width="1.7"/>
<path d="M212.5 514.5H220.5M216.5 511V518" stroke="#e0203c" stroke-width="1.7"/>
<path d="M226.5 522.5H248.5M237.5 514.5V530.5" stroke="#e0203c" stroke-width="1.7"/>
<path d="M182.25 523.1H200.25M191.25 518.1V528.1" stroke="#e0203c" stroke-width="1.7"/>
<path d="M174 543H212M193 529V557" stroke="#e0203c" stroke-width="1.7"/>
<path d="M152.4 552.25H186.4M169.4 539.75V564.75" stroke="#e0203c" stroke-width="1.7"/>
<path d="M190.5 564.8H213.5M202 557.3V572.3" stroke="#e0203c" stroke-width="1.7"/>
<path d="M166.6 571.25H174.6M170.6 567.75V574.75" stroke="#e0203c" stroke-width="1.7"/>
<path d="M211.5 572.5H229.5M220.5 566.5V578.5" stroke="#e0203c" stroke-width="1.7"/>
<path d="M137.8 580.6H161.2M149.5 572V589.2" stroke="#e0203c" stroke-width="1.7"/>
<path d="M150.7 584.75H169.3M160 576.75V592.75" stroke="#e0203c" stroke-width="1.7"/>
<path d="M185.4 579.5H193.4M189.4 576V583" stroke="#e0203c" stroke-width="1.7"/>
<path d="M157.8 592.6H202.8M180.3 575.1V610.1" stroke="#e0203c" stroke-width="1.7"/>
<path d="M172.7 606H213.3M193 591.4V620.6" stroke="#e0203c" stroke-width="1.7"/>
<path d="M265 516.5H268M266.5 515V518" stroke="#e0203c" stroke-width="1.7"/>
<circle cx="213.5" cy="551.5" r="1.2" fill="#1f165c"/>
<circle cx="251.3" cy="472.6" r="1.2" fill="#1f165c"/>
<circle cx="278" cy="501" r="1.2" fill="#1f165c"/>
<text x="561" y="400.6" font-size="11" font-family="'Liberation Mono', 'DejaVu Sans Mono', monospace" fill="#15112a" stroke="#15112a" stroke-width="0.45" font-weight="bold" textLength="98.5" lengthAdjust="spacingAndGlyphs" xml:space="preserve">Scatter Plot</text>
<text x="499.6" y="413.5" font-size="11" font-family="'Liberation Mono', 'DejaVu Sans Mono', monospace" fill="#15112a" stroke="#15112a" stroke-width="0.45" font-weight="bold" textLength="222" lengthAdjust="spacingAndGlyphs" xml:space="preserve">Cross Validation for 4SCOMP</text>
<rect x="455.2" y="443.75" width="312" height="239" stroke="#1a1540" stroke-width="1.4" fill="none"/>
<line x1="455.2" y1="682.75" x2="767.2" y2="443.75" stroke="#1a1540" stroke-width="1.4"/>
<line x1="451.7" y1="682.75" x2="455.2" y2="682.75" stroke="#1a1540" stroke-width="1.2"/>
<line x1="455.2" y1="682.75" x2="455.2" y2="686.25" stroke="#1a1540" stroke-width="1.2"/>
<line x1="451.7" y1="634.95" x2="455.2" y2="634.95" stroke="#1a1540" stroke-width="1.2"/>
<line x1="517.6" y1="682.75" x2="517.6" y2="686.25" stroke="#1a1540" stroke-width="1.2"/>
<line x1="451.7" y1="587.15" x2="455.2" y2="587.15" stroke="#1a1540" stroke-width="1.2"/>
<line x1="580" y1="682.75" x2="580" y2="686.25" stroke="#1a1540" stroke-width="1.2"/>
<line x1="451.7" y1="539.35" x2="455.2" y2="539.35" stroke="#1a1540" stroke-width="1.2"/>
<line x1="642.4" y1="682.75" x2="642.4" y2="686.25" stroke="#1a1540" stroke-width="1.2"/>
<line x1="451.7" y1="491.55" x2="455.2" y2="491.55" stroke="#1a1540" stroke-width="1.2"/>
<line x1="704.8" y1="682.75" x2="704.8" y2="686.25" stroke="#1a1540" stroke-width="1.2"/>
<line x1="451.7" y1="443.75" x2="455.2" y2="443.75" stroke="#1a1540" stroke-width="1.2"/>
<line x1="767.2" y1="682.75" x2="767.2" y2="686.25" stroke="#1a1540" stroke-width="1.2"/>
<text x="431.3" y="686.95" font-size="11" font-family="'Liberation Mono', 'DejaVu Sans Mono', monospace" fill="#15112a" stroke="#15112a" stroke-width="0.45" font-weight="bold" textLength="13" lengthAdjust="spacingAndGlyphs" xml:space="preserve">0.</text>
<text x="431.3" y="639.15" font-size="11" font-family="'Liberation Mono', 'DejaVu Sans Mono', monospace" fill="#15112a" stroke="#15112a" stroke-width="0.45" font-weight="bold" textLength="13" lengthAdjust="spacingAndGlyphs" xml:space="preserve">1.</text>
<text x="431.3" y="591.35" font-size="11" font-family="'Liberation Mono', 'DejaVu Sans Mono', monospace" fill="#15112a" stroke="#15112a" stroke-width="0.45" font-weight="bold" textLength="13" lengthAdjust="spacingAndGlyphs" xml:space="preserve">2.</text>
<text x="431.3" y="543.55" font-size="11" font-family="'Liberation Mono', 'DejaVu Sans Mono', monospace" fill="#15112a" stroke="#15112a" stroke-width="0.45" font-weight="bold" textLength="13" lengthAdjust="spacingAndGlyphs" xml:space="preserve">3.</text>
<text x="431.3" y="495.75" font-size="11" font-family="'Liberation Mono', 'DejaVu Sans Mono', monospace" fill="#15112a" stroke="#15112a" stroke-width="0.45" font-weight="bold" textLength="13" lengthAdjust="spacingAndGlyphs" xml:space="preserve">4.</text>
<text x="431.3" y="447.95" font-size="11" font-family="'Liberation Mono', 'DejaVu Sans Mono', monospace" fill="#15112a" stroke="#15112a" stroke-width="0.45" font-weight="bold" textLength="13" lengthAdjust="spacingAndGlyphs" xml:space="preserve">5.</text>
<text x="445" y="698.8" font-size="11" font-family="'Liberation Mono', 'DejaVu Sans Mono', monospace" fill="#15112a" stroke="#15112a" stroke-width="0.45" font-weight="bold" textLength="13" lengthAdjust="spacingAndGlyphs" xml:space="preserve">0.</text>
<text x="508" y="698.8" font-size="11" font-family="'Liberation Mono', 'DejaVu Sans Mono', monospace" fill="#15112a" stroke="#15112a" stroke-width="0.45" font-weight="bold" textLength="13" lengthAdjust="spacingAndGlyphs" xml:space="preserve">1.</text>
<text x="570.5" y="698.8" font-size="11" font-family="'Liberation Mono', 'DejaVu Sans Mono', monospace" fill="#15112a" stroke="#15112a" stroke-width="0.45" font-weight="bold" textLength="13" lengthAdjust="spacingAndGlyphs" xml:space="preserve">2.</text>
<text x="633.4" y="698.8" font-size="11" font-family="'Liberation Mono', 'DejaVu Sans Mono', monospace" fill="#15112a" stroke="#15112a" stroke-width="0.45" font-weight="bold" textLength="13" lengthAdjust="spacingAndGlyphs" xml:space="preserve">3.</text>
<text x="696" y="698.8" font-size="11" font-family="'Liberation Mono', 'DejaVu Sans Mono', monospace" fill="#15112a" stroke="#15112a" stroke-width="0.45" font-weight="bold" textLength="13" lengthAdjust="spacingAndGlyphs" xml:space="preserve">4.</text>
<text x="758.75" y="698.8" font-size="11" font-family="'Liberation Mono', 'DejaVu Sans Mono', monospace" fill="#15112a" stroke="#15112a" stroke-width="0.45" font-weight="bold" textLength="13" lengthAdjust="spacingAndGlyphs" xml:space="preserve">5.</text>
<text x="385.3" y="625.2" font-size="11" font-family="'Liberation Mono', 'DejaVu Sans Mono', monospace" fill="#15112a" stroke="#15112a" stroke-width="0.45" font-weight="bold" textLength="122.5" lengthAdjust="spacingAndGlyphs" transform="rotate(-90 385.3 625.2)" xml:space="preserve">Kriged Estimate</text>
<text x="584.5" y="721" font-size="11.5" font-family="'Liberation Mono', 'DejaVu Sans Mono', monospace" fill="#15112a" stroke="#15112a" stroke-width="0.45" font-weight="bold" textLength="49" lengthAdjust="spacingAndGlyphs" xml:space="preserve">4SCOMP</text>
<path d="M501.85 579H508.65M505.25 575.4V582.6" stroke="#e0203c" stroke-width="1.7"/>
<path d="M514.7 575.6H521.5M518.1 572V579.2" stroke="#e0203c" stroke-width="1.7"/>
<path d="M521 580H527.8M524.4 576.4V583.6" stroke="#e0203c" stroke-width="1.7"/>
<path d="M533.7 579.75H540.5M537.1 576.15V583.35" stroke="#e0203c" stroke-width="1.7"/>
<path d="M545.35 576.25H552.15M548.75 572.65V579.85" stroke="#e0203c" stroke-width="1.7"/>
<path d="M545.1 584.4H551.9M548.5 580.8V588" stroke="#e0203c" stroke-width="1.7"/>
<path d="M551.6 583.1H558.4M555 579.5V586.7" stroke="#e0203c" stroke-width="1.7"/>
<path d="M557.85 589.4H564.65M561.25 585.8V593" stroke="#e0203c" stroke-width="1.7"/>
<path d="M577.2 580.6H584M580.6 577V584.2" stroke="#e0203c" stroke-width="1.7"/>
<path d="M514.7 595.6H521.5M518.1 592V599.2" stroke="#e0203c" stroke-width="1.7"/>
<path d="M515.1 598.75H521.9M518.5 595.15V602.35" stroke="#e0203c" stroke-width="1.7"/>
<path d="M527.5 597.5H534.3M530.9 593.9V601.1" stroke="#e0203c" stroke-width="1.7"/>
<path d="M508.5 602.5H515.3M511.9 598.9V606.1" stroke="#e0203c" stroke-width="1.7"/>
<path d="M545.1 597.5H551.9M548.5 593.9V601.1" stroke="#e0203c" stroke-width="1.7"/>
<path d="M545.35 603.75H552.15M548.75 600.15V607.35" stroke="#e0203c" stroke-width="1.7"/>
<path d="M539.7 603.75H546.5M543.1 600.15V607.35" stroke="#e0203c" stroke-width="1.7"/>
<path d="M539.1 613.75H545.9M542.5 610.15V617.35" stroke="#e0203c" stroke-width="1.7"/>
<path d="M508.2 621.9H515M511.6 618.3V625.5" stroke="#e0203c" stroke-width="1.7"/>
<path d="M514.7 624.4H521.5M518.1 620.8V628" stroke="#e0203c" stroke-width="1.7"/>
<path d="M596.6 503H603.4M600 499.4V506.6" stroke="#e0203c" stroke-width="1.7"/>
<path d="M584 548H590.8M587.4 544.4V551.6" stroke="#e0203c" stroke-width="1.7"/>
<path d="M557.9 519.75H564.7M561.3 516.15V523.35" stroke="#e0203c" stroke-width="1.7"/>
<path d="M539.9 617.95L545.1 624.55M539.9 624.55L545.1 617.95" stroke="#1f165c" stroke-width="1.5"/>
<path d="M545.5 609.8L550.7 616.4M545.5 616.4L550.7 609.8" stroke="#1f165c" stroke-width="1.5"/>
<path d="M551.8 617.3L557 623.9M551.8 623.9L557 617.3" stroke="#1f165c" stroke-width="1.5"/>
<path d="M558.65 608.6L563.85 615.2M558.65 615.2L563.85 608.6" stroke="#1f165c" stroke-width="1.5"/>
<path d="M570.5 589.8L575.7 596.4M570.5 596.4L575.7 589.8" stroke="#1f165c" stroke-width="1.5"/>
<path d="M575.5 591.7L580.7 598.3M575.5 598.3L580.7 591.7" stroke="#1f165c" stroke-width="1.5"/>
<path d="M578.65 597.95L583.85 604.55M578.65 604.55L583.85 597.95" stroke="#1f165c" stroke-width="1.5"/>
<path d="M571.15 602.95L576.35 609.55M571.15 609.55L576.35 602.95" stroke="#1f165c" stroke-width="1.5"/>
<path d="M578 600.45L583.2 607.05M578 607.05L583.2 600.45" stroke="#1f165c" stroke-width="1.5"/>
<path d="M590.5 589.8L595.7 596.4M590.5 596.4L595.7 589.8" stroke="#1f165c" stroke-width="1.5"/>
<path d="M690.4 522.7L695.6 529.3M690.4 529.3L695.6 522.7" stroke="#1f165c" stroke-width="1.5"/>
<path d="M709.4 531.1L714.6 537.7M709.4 537.7L714.6 531.1" stroke="#1f165c" stroke-width="1.5"/>
<path d="M703.4 564.7L708.6 571.3M703.4 571.3L708.6 564.7" stroke="#1f165c" stroke-width="1.5"/>
<path d="M703.4 569.7L708.6 576.3M703.4 576.3L708.6 569.7" stroke="#1f165c" stroke-width="1.5"/>
<path d="M640.4 560.3L645.6 566.9M640.4 566.9L645.6 560.3" stroke="#1f165c" stroke-width="1.5"/>
<path d="M646.4 577.7L651.6 584.3M646.4 584.3L651.6 577.7" stroke="#1f165c" stroke-width="1.5"/>
<path d="M615.4 565.7L620.6 572.3M615.4 572.3L620.6 565.7" stroke="#1f165c" stroke-width="1.5"/>
<path d="M615.4 572.7L620.6 579.3M615.4 579.3L620.6 572.7" stroke="#1f165c" stroke-width="1.5"/>
<path d="M615.4 577.7L620.6 584.3M615.4 584.3L620.6 577.7" stroke="#1f165c" stroke-width="1.5"/>
<path d="M620.8 583.1L626 589.7M620.8 589.7L626 583.1" stroke="#1f165c" stroke-width="1.5"/>
<path d="M590.8 589.1L596 595.7M590.8 595.7L596 589.1" stroke="#1f165c" stroke-width="1.5"/>
<path d="M596.8 598.1L602 604.7M596.8 604.7L602 598.1" stroke="#1f165c" stroke-width="1.5"/>
<path d="M615.4 597.7L620.6 604.3M615.4 604.3L620.6 597.7" stroke="#1f165c" stroke-width="1.5"/>
<path d="M627.8 596.1L633 602.7M627.8 602.7L633 596.1" stroke="#1f165c" stroke-width="1.5"/>
<path d="M596.8 611.1L602 617.7M596.8 617.7L602 611.1" stroke="#1f165c" stroke-width="1.5"/>
<path d="M609.4 621.1L614.6 627.7M609.4 627.7L614.6 621.1" stroke="#1f165c" stroke-width="1.5"/>
<path d="M614.8 630.3L620 636.9M614.8 636.9L620 630.3" stroke="#1f165c" stroke-width="1.5"/>
<line x1="506" y1="436.8" x2="713" y2="436.8" stroke="#e0203c" stroke-width="1.3"/>
<line x1="506" y1="433.5" x2="506" y2="440" stroke="#e0203c" stroke-width="1.3"/>
<line x1="713" y1="433.5" x2="713" y2="440" stroke="#e0203c" stroke-width="1.3"/>
<rect x="543.5" y="432.4" width="69.8" height="9.9" stroke="#2f8a3a" stroke-width="1.4" fill="#ffffff"/>
<line x1="561" y1="432.4" x2="561" y2="442.3" stroke="#15112a" stroke-width="1.1"/>
<path d="M575.8 434.1L581 440.5M575.8 440.5L581 434.1" stroke="#15112a" stroke-width="1.5"/>
<line x1="777.9" y1="503" x2="777.9" y2="633.5" stroke="#e0203c" stroke-width="1.3"/>
<line x1="774.2" y1="503" x2="781.5" y2="503" stroke="#e0203c" stroke-width="1.3"/>
<line x1="774.2" y1="633.5" x2="781.5" y2="633.5" stroke="#e0203c" stroke-width="1.3"/>
<rect x="770.6" y="580.4" width="14" height="25" stroke="#2f8a3a" stroke-width="1.4" fill="#ffffff"/>
<line x1="770.6" y1="597" x2="784.6" y2="597" stroke="#15112a" stroke-width="1" stroke-dasharray="1.5 1"/>
<path d="M774.3 588.1L780.3 592.5M774.3 592.5L780.3 588.1" stroke="#15112a" stroke-width="1.5"/>
<text x="147.2" y="793.6" font-size="12.6" font-family="'Liberation Sans', 'DejaVu Sans', sans-serif" fill="#15112a" stroke="#15112a" stroke-width="0.3" textLength="162" lengthAdjust="spacingAndGlyphs" xml:space="preserve">KRIGEADO P2A10CM</text>
<text x="147.2" y="808.2" font-size="12.6" font-family="'Liberation Sans', 'DejaVu Sans', sans-serif" fill="#15112a" stroke="#15112a" stroke-width="0.3" textLength="162" lengthAdjust="spacingAndGlyphs" xml:space="preserve">CONTORNO 4SCOMP</text>
<rect x="111.6" y="809" width="232.1" height="251.5" stroke="#1a1540" stroke-width="1.7" fill="none"/>
<line x1="137.39" y1="1060.5" x2="137.39" y2="1057.5" stroke="#1a1540" stroke-width="1.2"/>
<line x1="137.39" y1="809" x2="137.39" y2="812" stroke="#1a1540" stroke-width="1.2"/>
<line x1="111.6" y1="836.94" x2="114.6" y2="836.94" stroke="#1a1540" stroke-width="1.2"/>
<line x1="343.7" y1="836.94" x2="340.7" y2="836.94" stroke="#1a1540" stroke-width="1.2"/>
<line x1="163.18" y1="1060.5" x2="163.18" y2="1057.5" stroke="#1a1540" stroke-width="1.2"/>
<line x1="163.18" y1="809" x2="163.18" y2="812" stroke="#1a1540" stroke-width="1.2"/>
<line x1="111.6" y1="864.89" x2="114.6" y2="864.89" stroke="#1a1540" stroke-width="1.2"/>
<line x1="343.7" y1="864.89" x2="340.7" y2="864.89" stroke="#1a1540" stroke-width="1.2"/>
<line x1="188.97" y1="1060.5" x2="188.97" y2="1057.5" stroke="#1a1540" stroke-width="1.2"/>
<line x1="188.97" y1="809" x2="188.97" y2="812" stroke="#1a1540" stroke-width="1.2"/>
<line x1="111.6" y1="892.83" x2="114.6" y2="892.83" stroke="#1a1540" stroke-width="1.2"/>
<line x1="343.7" y1="892.83" x2="340.7" y2="892.83" stroke="#1a1540" stroke-width="1.2"/>
<line x1="214.76" y1="1060.5" x2="214.76" y2="1057.5" stroke="#1a1540" stroke-width="1.2"/>
<line x1="214.76" y1="809" x2="214.76" y2="812" stroke="#1a1540" stroke-width="1.2"/>
<line x1="111.6" y1="920.78" x2="114.6" y2="920.78" stroke="#1a1540" stroke-width="1.2"/>
<line x1="343.7" y1="920.78" x2="340.7" y2="920.78" stroke="#1a1540" stroke-width="1.2"/>
<line x1="240.54" y1="1060.5" x2="240.54" y2="1057.5" stroke="#1a1540" stroke-width="1.2"/>
<line x1="240.54" y1="809" x2="240.54" y2="812" stroke="#1a1540" stroke-width="1.2"/>
<line x1="111.6" y1="948.72" x2="114.6" y2="948.72" stroke="#1a1540" stroke-width="1.2"/>
<line x1="343.7" y1="948.72" x2="340.7" y2="948.72" stroke="#1a1540" stroke-width="1.2"/>
<line x1="266.33" y1="1060.5" x2="266.33" y2="1057.5" stroke="#1a1540" stroke-width="1.2"/>
<line x1="266.33" y1="809" x2="266.33" y2="812" stroke="#1a1540" stroke-width="1.2"/>
<line x1="111.6" y1="976.67" x2="114.6" y2="976.67" stroke="#1a1540" stroke-width="1.2"/>
<line x1="343.7" y1="976.67" x2="340.7" y2="976.67" stroke="#1a1540" stroke-width="1.2"/>
<line x1="292.12" y1="1060.5" x2="292.12" y2="1057.5" stroke="#1a1540" stroke-width="1.2"/>
<line x1="292.12" y1="809" x2="292.12" y2="812" stroke="#1a1540" stroke-width="1.2"/>
<line x1="111.6" y1="1004.61" x2="114.6" y2="1004.61" stroke="#1a1540" stroke-width="1.2"/>
<line x1="343.7" y1="1004.61" x2="340.7" y2="1004.61" stroke="#1a1540" stroke-width="1.2"/>
<line x1="317.91" y1="1060.5" x2="317.91" y2="1057.5" stroke="#1a1540" stroke-width="1.2"/>
<line x1="317.91" y1="809" x2="317.91" y2="812" stroke="#1a1540" stroke-width="1.2"/>
<line x1="111.6" y1="1032.56" x2="114.6" y2="1032.56" stroke="#1a1540" stroke-width="1.2"/>
<line x1="343.7" y1="1032.56" x2="340.7" y2="1032.56" stroke="#1a1540" stroke-width="1.2"/>
<text x="78.6" y="812.5" font-size="8.2" font-family="'Liberation Sans', 'DejaVu Sans', sans-serif" fill="#15112a" font-weight="bold" textLength="22.9" lengthAdjust="spacingAndGlyphs" xml:space="preserve">216.</text>
<text x="78.6" y="895.8" font-size="8.2" font-family="'Liberation Sans', 'DejaVu Sans', sans-serif" fill="#15112a" font-weight="bold" textLength="22.9" lengthAdjust="spacingAndGlyphs" xml:space="preserve">143.</text>
<text x="83.2" y="980" font-size="8.2" font-family="'Liberation Sans', 'DejaVu Sans', sans-serif" fill="#15112a" font-weight="bold" textLength="16.8" lengthAdjust="spacingAndGlyphs" xml:space="preserve">70.</text>
<text x="83.2" y="1064" font-size="8.2" font-family="'Liberation Sans', 'DejaVu Sans', sans-serif" fill="#15112a" font-weight="bold" textLength="16.8" lengthAdjust="spacingAndGlyphs" xml:space="preserve">-3.</text>
<text x="97.5" y="1072" font-size="8.2" font-family="'Liberation Sans', 'DejaVu Sans', sans-serif" fill="#15112a" font-weight="bold" textLength="22.9" lengthAdjust="spacingAndGlyphs" xml:space="preserve">-51.</text>
<text x="180" y="1072" font-size="8.2" font-family="'Liberation Sans', 'DejaVu Sans', sans-serif" fill="#15112a" font-weight="bold" textLength="16.8" lengthAdjust="spacingAndGlyphs" xml:space="preserve">-1.</text>
<text x="258.2" y="1072" font-size="8.2" font-family="'Liberation Sans', 'DejaVu Sans', sans-serif" fill="#15112a" font-weight="bold" textLength="16.8" lengthAdjust="spacingAndGlyphs" xml:space="preserve">48.</text>
<text x="335.5" y="1072" font-size="8.2" font-family="'Liberation Sans', 'DejaVu Sans', sans-serif" fill="#15112a" font-weight="bold" textLength="16.8" lengthAdjust="spacingAndGlyphs" xml:space="preserve">98.</text>
<text x="26" y="939" font-size="15" font-family="'Liberation Sans', 'DejaVu Sans', sans-serif" fill="#15112a" stroke="#15112a" stroke-width="0.5" textLength="6.8" lengthAdjust="spacingAndGlyphs" transform="rotate(-90 26 939)" xml:space="preserve">Y</text>
<text x="223.5" y="1096" font-size="10" font-family="'Liberation Sans', 'DejaVu Sans', sans-serif" fill="#15112a" textLength="7" lengthAdjust="spacingAndGlyphs" xml:space="preserve">X</text>
<text x="510.5" y="793.6" font-size="12.6" font-family="'Liberation Sans', 'DejaVu Sans', sans-serif" fill="#15112a" stroke="#15112a" stroke-width="0.3" textLength="161.5" lengthAdjust="spacingAndGlyphs" xml:space="preserve">KRIGEADO P2A10CM</text>
<text x="495" y="808.2" font-size="12.6" font-family="'Liberation Sans', 'DejaVu Sans', sans-serif" fill="#15112a" stroke="#15112a" stroke-width="0.3" textLength="192" lengthAdjust="spacingAndGlyphs" xml:space="preserve">CONTORNO KSD4SCOMP</text>
<rect x="475.2" y="809" width="231.6" height="251.5" stroke="#1a1540" stroke-width="1.7" fill="none"/>
<line x1="500.93" y1="1060.5" x2="500.93" y2="1057.5" stroke="#1a1540" stroke-width="1.2"/>
<line x1="500.93" y1="809" x2="500.93" y2="812" stroke="#1a1540" stroke-width="1.2"/>
<line x1="475.2" y1="836.94" x2="478.2" y2="836.94" stroke="#1a1540" stroke-width="1.2"/>
<line x1="706.8" y1="836.94" x2="703.8" y2="836.94" stroke="#1a1540" stroke-width="1.2"/>
<line x1="526.67" y1="1060.5" x2="526.67" y2="1057.5" stroke="#1a1540" stroke-width="1.2"/>
<line x1="526.67" y1="809" x2="526.67" y2="812" stroke="#1a1540" stroke-width="1.2"/>
<line x1="475.2" y1="864.89" x2="478.2" y2="864.89" stroke="#1a1540" stroke-width="1.2"/>
<line x1="706.8" y1="864.89" x2="703.8" y2="864.89" stroke="#1a1540" stroke-width="1.2"/>
<line x1="552.4" y1="1060.5" x2="552.4" y2="1057.5" stroke="#1a1540" stroke-width="1.2"/>
<line x1="552.4" y1="809" x2="552.4" y2="812" stroke="#1a1540" stroke-width="1.2"/>
<line x1="475.2" y1="892.83" x2="478.2" y2="892.83" stroke="#1a1540" stroke-width="1.2"/>
<line x1="706.8" y1="892.83" x2="703.8" y2="892.83" stroke="#1a1540" stroke-width="1.2"/>
<line x1="578.13" y1="1060.5" x2="578.13" y2="1057.5" stroke="#1a1540" stroke-width="1.2"/>
<line x1="578.13" y1="809" x2="578.13" y2="812" stroke="#1a1540" stroke-width="1.2"/>
<line x1="475.2" y1="920.78" x2="478.2" y2="920.78" stroke="#1a1540" stroke-width="1.2"/>
<line x1="706.8" y1="920.78" x2="703.8" y2="920.78" stroke="#1a1540" stroke-width="1.2"/>
<line x1="603.87" y1="1060.5" x2="603.87" y2="1057.5" stroke="#1a1540" stroke-width="1.2"/>
<line x1="603.87" y1="809" x2="603.87" y2="812" stroke="#1a1540" stroke-width="1.2"/>
<line x1="475.2" y1="948.72" x2="478.2" y2="948.72" stroke="#1a1540" stroke-width="1.2"/>
<line x1="706.8" y1="948.72" x2="703.8" y2="948.72" stroke="#1a1540" stroke-width="1.2"/>
<line x1="629.6" y1="1060.5" x2="629.6" y2="1057.5" stroke="#1a1540" stroke-width="1.2"/>
<line x1="629.6" y1="809" x2="629.6" y2="812" stroke="#1a1540" stroke-width="1.2"/>
<line x1="475.2" y1="976.67" x2="478.2" y2="976.67" stroke="#1a1540" stroke-width="1.2"/>
<line x1="706.8" y1="976.67" x2="703.8" y2="976.67" stroke="#1a1540" stroke-width="1.2"/>
<line x1="655.33" y1="1060.5" x2="655.33" y2="1057.5" stroke="#1a1540" stroke-width="1.2"/>
<line x1="655.33" y1="809" x2="655.33" y2="812" stroke="#1a1540" stroke-width="1.2"/>
<line x1="475.2" y1="1004.61" x2="478.2" y2="1004.61" stroke="#1a1540" stroke-width="1.2"/>
<line x1="706.8" y1="1004.61" x2="703.8" y2="1004.61" stroke="#1a1540" stroke-width="1.2"/>
<line x1="681.07" y1="1060.5" x2="681.07" y2="1057.5" stroke="#1a1540" stroke-width="1.2"/>
<line x1="681.07" y1="809" x2="681.07" y2="812" stroke="#1a1540" stroke-width="1.2"/>
<line x1="475.2" y1="1032.56" x2="478.2" y2="1032.56" stroke="#1a1540" stroke-width="1.2"/>
<line x1="706.8" y1="1032.56" x2="703.8" y2="1032.56" stroke="#1a1540" stroke-width="1.2"/>
<text x="442.2" y="812.5" font-size="8.2" font-family="'Liberation Sans', 'DejaVu Sans', sans-serif" fill="#15112a" font-weight="bold" textLength="22.9" lengthAdjust="spacingAndGlyphs" xml:space="preserve">216.</text>
<text x="442.2" y="895.8" font-size="8.2" font-family="'Liberation Sans', 'DejaVu Sans', sans-serif" fill="#15112a" font-weight="bold" textLength="22.9" lengthAdjust="spacingAndGlyphs" xml:space="preserve">143.</text>
<text x="446.8" y="980" font-size="8.2" font-family="'Liberation Sans', 'DejaVu Sans', sans-serif" fill="#15112a" font-weight="bold" textLength="16.8" lengthAdjust="spacingAndGlyphs" xml:space="preserve">70.</text>
<text x="446.8" y="1064" font-size="8.2" font-family="'Liberation Sans', 'DejaVu Sans', sans-serif" fill="#15112a" font-weight="bold" textLength="16.8" lengthAdjust="spacingAndGlyphs" xml:space="preserve">-3.</text>
<text x="461.1" y="1072" font-size="8.2" font-family="'Liberation Sans', 'DejaVu Sans', sans-serif" fill="#15112a" font-weight="bold" textLength="22.9" lengthAdjust="spacingAndGlyphs" xml:space="preserve">-51.</text>
<text x="543.6" y="1072" font-size="8.2" font-family="'Liberation Sans', 'DejaVu Sans', sans-serif" fill="#15112a" font-weight="bold" textLength="16.8" lengthAdjust="spacingAndGlyphs" xml:space="preserve">-1.</text>
<text x="621.8" y="1072" font-size="8.2" font-family="'Liberation Sans', 'DejaVu Sans', sans-serif" fill="#15112a" font-weight="bold" textLength="16.8" lengthAdjust="spacingAndGlyphs" xml:space="preserve">48.</text>
<text x="699.1" y="1072" font-size="8.2" font-family="'Liberation Sans', 'DejaVu Sans', sans-serif" fill="#15112a" font-weight="bold" textLength="16.8" lengthAdjust="spacingAndGlyphs" xml:space="preserve">98.</text>
<text x="389.6" y="939" font-size="15" font-family="'Liberation Sans', 'DejaVu Sans', sans-serif" fill="#15112a" stroke="#15112a" stroke-width="0.5" textLength="6.8" lengthAdjust="spacingAndGlyphs" transform="rotate(-90 389.6 939)" xml:space="preserve">Y</text>
<text x="587.1" y="1096" font-size="10" font-family="'Liberation Sans', 'DejaVu Sans', sans-serif" fill="#15112a" textLength="7" lengthAdjust="spacingAndGlyphs" xml:space="preserve">X</text>
<path d="M188 818.5 L197.5 810.5" stroke="#15122e" stroke-width="1.3" fill="none" stroke-linejoin="round"/>
<path d="M247.4 810.5 L258.4 816 L266.6 820.1 L276.25 829.75" stroke="#15122e" stroke-width="1.3" fill="none" stroke-linejoin="round"/>
<path d="M295.5 851.75 L299.6 840.75 L306.5 832.5 L314.8 821.5 L323 818 L334 815.3 L343 814" stroke="#15122e" stroke-width="1.3" fill="none" stroke-linejoin="round"/>
<path d="M274.9 810.5 L283.1 818.75 L291.4 827.7 L299.6 822.9 L309.3 810.5" stroke="#15122e" stroke-width="1.3" fill="none" stroke-linejoin="round"/>
<path d="M237.5 837.6 L240.5 831.8 L262.5 833.2 L269.4 838 L268 842.1" stroke="#15122e" stroke-width="1.3" fill="none" stroke-linejoin="round"/>
<path d="M343 828.4 L328.5 831.1 L320.25 836.6 L319.6 842.1" stroke="#15122e" stroke-width="1.3" fill="none" stroke-linejoin="round"/>
<path d="M327.25 868 L328 880 L330.5 892.75 L343.5 897.6" stroke="#15122e" stroke-width="1.3" fill="none" stroke-linejoin="round"/>
<path d="M188 837.25 L205 839.3 L221 842.5 L230 853.5 L239.5 862.5 L250 867 L262.5 869.6 L280.4 868.25 L294 869" stroke="#15122e" stroke-width="1.3" fill="none" stroke-linejoin="round"/>
<path d="M314.25 897.6 L320.75 905.75 L343.5 917" stroke="#15122e" stroke-width="1.3" fill="none" stroke-linejoin="round"/>
<path d="M212 903 L201.5 892 L215 879.25 L230 879.5 L250 881 L267.1 883.8" stroke="#15122e" stroke-width="1.3" fill="none" stroke-linejoin="round"/>
<path d="M301.25 894.4 L310 907 L317.5 918.75 L325 930 L325.5 945 L323 949.4" stroke="#15122e" stroke-width="1.3" fill="none" stroke-linejoin="round"/>
<path d="M293.1 949.4 L267.1 939.6 L255 947 L239.5 960 L230 954 L221 945 L224 930 L226.5 925" stroke="#15122e" stroke-width="1.3" fill="none" stroke-linejoin="round"/>
<path d="M145.25 892.75 L162.5 920.5 L170 925 L180 931 L188 934 L196 933.5 L201.5 931 L209.75 920.5 L191.75 903.25" stroke="#15122e" stroke-width="1.3" fill="none" stroke-linejoin="round"/>
<path d="M111.6 929.5 L129.5 928.75" stroke="#15122e" stroke-width="1.3" fill="none" stroke-linejoin="round"/>
<path d="M257.4 912.25 L267.1 903.3 L283.4 918.75 L276 926" stroke="#15122e" stroke-width="1.3" fill="none" stroke-linejoin="round"/>
<path d="M112.25 942.75 L132.5 940.5 L147.5 946.5 L150.5 952.5 L146.75 975 L147.5 1000.5" stroke="#15122e" stroke-width="1.3" fill="none" stroke-linejoin="round"/>
<path d="M112.25 962.25 L128.75 976.5 L113 990.75" stroke="#15122e" stroke-width="1.3" fill="none" stroke-linejoin="round"/>
<path d="M189.2 949 L176.25 965.9 L169.5 977.1 L170.6 988.4 L173.4 1000.75 L178.5 1007.5" stroke="#15122e" stroke-width="1.3" fill="none" stroke-linejoin="round"/>
<path d="M212.8 1010.9 L229.1 1005.25 L229.7 1000.75 L221 985 L212.25 973" stroke="#15122e" stroke-width="1.3" fill="none" stroke-linejoin="round"/>
<path d="M179.6 990 L181.9 985 L181.9 977 L183.6 971.5 L188.6 967.6 L197.6 977.1 L195.4 987.25" stroke="#15122e" stroke-width="1.3" fill="none" stroke-linejoin="round"/>
<path d="M286.6 971.3 L267.1 959.1 L237.9 973.75 L236.25 978.6 L241.1 986.75 L251.5 987.6" stroke="#15122e" stroke-width="1.3" fill="none" stroke-linejoin="round"/>
<path d="M282 978.6 L292 977.5 L296 988 L301.25 1004.6" stroke="#15122e" stroke-width="1.3" fill="none" stroke-linejoin="round"/>
<path d="M181.9 1028.9 L200 1023.7 L220 1019.25 L239.5 1013.6 L252.5 1020.9 L266.3 1032.25" stroke="#15122e" stroke-width="1.3" fill="none" stroke-linejoin="round"/>
<path d="M191 1040 L200 1036.6 L220 1032.25 L236.25 1031.4 L246 1037.1 L265.5 1059.9" stroke="#15122e" stroke-width="1.3" fill="none" stroke-linejoin="round"/>
<path d="M112.25 1011.9 L124.6 1019.2 L137 1031.6 L139.5 1027.5" stroke="#15122e" stroke-width="1.3" fill="none" stroke-linejoin="round"/>
<path d="M130.25 1022 L140.4 1023.1" stroke="#15122e" stroke-width="1.3" fill="none" stroke-linejoin="round"/>
<path d="M112.25 1022.6 L121.25 1029.9 L137 1037.2 L148.25 1037.75" stroke="#15122e" stroke-width="1.3" fill="none" stroke-linejoin="round"/>
<path d="M112.25 1031 L125.75 1037.75 L141.5 1042.25 L153.9 1043.4" stroke="#15122e" stroke-width="1.3" fill="none" stroke-linejoin="round"/>
<path d="M112.25 1042.25 L132.5 1045.6 L157.25 1049" stroke="#15122e" stroke-width="1.3" fill="none" stroke-linejoin="round"/>
<path d="M112.25 1050 L132.5 1051.25 L158.4 1056.3" stroke="#15122e" stroke-width="1.3" fill="none" stroke-linejoin="round"/>
<path d="M112.25 1054.6 L143.75 1056.3 L162.9 1059.1" stroke="#15122e" stroke-width="1.3" fill="none" stroke-linejoin="round"/>
<path d="M188.75 1058 L200 1060.25" stroke="#15122e" stroke-width="1.3" fill="none" stroke-linejoin="round"/>
<g transform="rotate(0 252 840.5)">
<text x="238.75" y="844.64" font-size="11.5" font-family="'Liberation Sans', 'DejaVu Sans', sans-serif" fill="#15122e" stroke="#15122e" stroke-width="0.25" textLength="26.5" lengthAdjust="spacingAndGlyphs" xml:space="preserve">2.40</text>
</g>
<g transform="rotate(52 285.9 844.9)">
<text x="272.65" y="849.04" font-size="11.5" font-family="'Liberation Sans', 'DejaVu Sans', sans-serif" fill="#15122e" stroke="#15122e" stroke-width="0.25" textLength="26.5" lengthAdjust="spacingAndGlyphs" xml:space="preserve">2.00</text>
</g>
<g transform="rotate(90 328.5 858)">
<text x="315.25" y="862.14" font-size="11.5" font-family="'Liberation Sans', 'DejaVu Sans', sans-serif" fill="#15122e" stroke="#15122e" stroke-width="0.25" textLength="26.5" lengthAdjust="spacingAndGlyphs" xml:space="preserve">2.40</text>
</g>
<g transform="rotate(0 286 887.8)">
<text x="272.75" y="891.94" font-size="11.5" font-family="'Liberation Sans', 'DejaVu Sans', sans-serif" fill="#15122e" stroke="#15122e" stroke-width="0.25" textLength="26.5" lengthAdjust="spacingAndGlyphs" xml:space="preserve">1.60</text>
</g>
<g transform="rotate(50 305.3 882.2)">
<text x="292.05" y="886.34" font-size="11.5" font-family="'Liberation Sans', 'DejaVu Sans', sans-serif" fill="#15122e" stroke="#15122e" stroke-width="0.25" textLength="26.5" lengthAdjust="spacingAndGlyphs" xml:space="preserve">2.00</text>
</g>
<g transform="rotate(60 273.5 917)">
<text x="260.25" y="921.14" font-size="11.5" font-family="'Liberation Sans', 'DejaVu Sans', sans-serif" fill="#15122e" stroke="#15122e" stroke-width="0.25" textLength="26.5" lengthAdjust="spacingAndGlyphs" xml:space="preserve">1.20</text>
</g>
<g transform="rotate(62 221 916)">
<text x="207.75" y="920.14" font-size="11.5" font-family="'Liberation Sans', 'DejaVu Sans', sans-serif" fill="#15122e" stroke="#15122e" stroke-width="0.25" textLength="26.5" lengthAdjust="spacingAndGlyphs" xml:space="preserve">1.60</text>
</g>
<g transform="rotate(-35 176.75 911)">
<text x="163.5" y="915.14" font-size="11.5" font-family="'Liberation Sans', 'DejaVu Sans', sans-serif" fill="#15122e" stroke="#15122e" stroke-width="0.25" textLength="26.5" lengthAdjust="spacingAndGlyphs" xml:space="preserve">2.00</text>
</g>
<g transform="rotate(-20 188 920.5)">
<text x="184.75" y="924.64" font-size="11.5" font-family="'Liberation Sans', 'DejaVu Sans', sans-serif" fill="#15122e" stroke="#15122e" stroke-width="0.25" textLength="6.5" lengthAdjust="spacingAndGlyphs" xml:space="preserve">D</text>
</g>
<g transform="rotate(0 144.5 925.5)">
<text x="131.25" y="929.64" font-size="11.5" font-family="'Liberation Sans', 'DejaVu Sans', sans-serif" fill="#15122e" stroke="#15122e" stroke-width="0.25" textLength="26.5" lengthAdjust="spacingAndGlyphs" xml:space="preserve">2.00</text>
</g>
<g transform="rotate(0 308.2 950)">
<text x="294.95" y="954.14" font-size="11.5" font-family="'Liberation Sans', 'DejaVu Sans', sans-serif" fill="#15122e" stroke="#15122e" stroke-width="0.25" textLength="26.5" lengthAdjust="spacingAndGlyphs" xml:space="preserve">1.60</text>
</g>
<g transform="rotate(35 205 964)">
<text x="191.75" y="968.14" font-size="11.5" font-family="'Liberation Sans', 'DejaVu Sans', sans-serif" fill="#15122e" stroke="#15122e" stroke-width="0.25" textLength="26.5" lengthAdjust="spacingAndGlyphs" xml:space="preserve">1.60</text>
</g>
<g transform="rotate(0 188 977)">
<text x="184.75" y="981.14" font-size="11.5" font-family="'Liberation Sans', 'DejaVu Sans', sans-serif" fill="#15122e" stroke="#15122e" stroke-width="0.25" textLength="6.5" lengthAdjust="spacingAndGlyphs" xml:space="preserve">L</text>
</g>
<g transform="rotate(30 190.5 992)">
<text x="177.25" y="996.14" font-size="11.5" font-family="'Liberation Sans', 'DejaVu Sans', sans-serif" fill="#15122e" stroke="#15122e" stroke-width="0.25" textLength="26.5" lengthAdjust="spacingAndGlyphs" xml:space="preserve">1.20</text>
</g>
<g transform="rotate(0 195 1010.5)">
<text x="181.75" y="1014.64" font-size="11.5" font-family="'Liberation Sans', 'DejaVu Sans', sans-serif" fill="#15122e" stroke="#15122e" stroke-width="0.25" textLength="26.5" lengthAdjust="spacingAndGlyphs" xml:space="preserve">1.60</text>
</g>
<g transform="rotate(0 266.2 983.5)">
<text x="252.95" y="987.64" font-size="11.5" font-family="'Liberation Sans', 'DejaVu Sans', sans-serif" fill="#15122e" stroke="#15122e" stroke-width="0.25" textLength="26.5" lengthAdjust="spacingAndGlyphs" xml:space="preserve">2.00</text>
</g>
<g transform="rotate(40 306 981.8)">
<text x="292.75" y="985.94" font-size="11.5" font-family="'Liberation Sans', 'DejaVu Sans', sans-serif" fill="#15122e" stroke="#15122e" stroke-width="0.25" textLength="26.5" lengthAdjust="spacingAndGlyphs" xml:space="preserve">2.00</text>
</g>
<g transform="rotate(-80 138.7 1011.3)">
<text x="125.45" y="1015.44" font-size="11.5" font-family="'Liberation Sans', 'DejaVu Sans', sans-serif" fill="#15122e" stroke="#15122e" stroke-width="0.25" textLength="26.5" lengthAdjust="spacingAndGlyphs" xml:space="preserve">1.60</text>
</g>
<g transform="rotate(0 164 1033.8)">
<text x="150.75" y="1037.94" font-size="11.5" font-family="'Liberation Sans', 'DejaVu Sans', sans-serif" fill="#15122e" stroke="#15122e" stroke-width="0.25" textLength="26.5" lengthAdjust="spacingAndGlyphs" xml:space="preserve">2.00</text>
</g>
<g transform="rotate(0 171.3 1041.2)">
<text x="158.05" y="1045.34" font-size="11.5" font-family="'Liberation Sans', 'DejaVu Sans', sans-serif" fill="#15122e" stroke="#15122e" stroke-width="0.25" textLength="26.5" lengthAdjust="spacingAndGlyphs" xml:space="preserve">2.40</text>
</g>
<g transform="rotate(0 173.5 1052.4)">
<text x="160.25" y="1056.54" font-size="11.5" font-family="'Liberation Sans', 'DejaVu Sans', sans-serif" fill="#15122e" stroke="#15122e" stroke-width="0.25" textLength="26.5" lengthAdjust="spacingAndGlyphs" xml:space="preserve">2.80</text>
</g>
<path d="M547 912.25 L565 893 L578.5 877.75 L583 865 L591.5 854" stroke="#15122e" stroke-width="1.3" fill="none" stroke-linejoin="round"/>
<path d="M612.6 839.1 L617.5 836.7 L624 824.5 L629.7 810.7" stroke="#15122e" stroke-width="1.3" fill="none" stroke-linejoin="round"/>
<path d="M533.5 932 L526.6 946.9 L515.6 960.9 L498.4 978.1 L488.3 989.8" stroke="#15122e" stroke-width="1.3" fill="none" stroke-linejoin="round"/>
<path d="M475.2 1048.4 L498.4 1059.4" stroke="#15122e" stroke-width="1.3" fill="none" stroke-linejoin="round"/>
<path d="M601 857 L591.5 862 L590 873.25 L591.5 889.5 L604.5 907.4 L617.5 889.5 L624 873.25 L622.4 863.5 L619 860.25" stroke="#15122e" stroke-width="1.3" fill="none" stroke-linejoin="round"/>
<path d="M601.25 863.5 L602.9 873.25 L605.3 877.3 L609.4 870 L608.5 866" stroke="#15122e" stroke-width="1.3" fill="none" stroke-linejoin="round"/>
<path d="M645 809.5 L640.25 826.1 L638.6 835.9 L641.9 842.4" stroke="#15122e" stroke-width="1.3" fill="none" stroke-linejoin="round"/>
<path d="M661.4 853 L682.5 835.9 L666.25 809.5" stroke="#15122e" stroke-width="1.3" fill="none" stroke-linejoin="round"/>
<path d="M679.25 809.5 L689 822.9 L706.9 835.9" stroke="#15122e" stroke-width="1.3" fill="none" stroke-linejoin="round"/>
<path d="M679 866.5 L682.5 865.1 L689 892.75 L682.5 899.25 L658.1 892.75 L657.3 888" stroke="#15122e" stroke-width="1.3" fill="none" stroke-linejoin="round"/>
<path d="M706.9 884.6 L698.75 896 L682.5 912.25 L670 926 L666 933" stroke="#15122e" stroke-width="1.3" fill="none" stroke-linejoin="round"/>
<path d="M653.25 951.8 L625.6 981.9 L601.25 1008.7" stroke="#15122e" stroke-width="1.3" fill="none" stroke-linejoin="round"/>
<path d="M592.5 1027 L584.4 1037.5 L576.6 1048.4 L571.9 1059.4" stroke="#15122e" stroke-width="1.3" fill="none" stroke-linejoin="round"/>
<path d="M512.5 1001.6 L519.5 1012.5 L520.3 1031.25 L509.4 1040.6 L499.2 1048.4 L487.5 1040.6 L480.5 1031.25 L484.4 1012.5 L494.5 999.5" stroke="#15122e" stroke-width="1.3" fill="none" stroke-linejoin="round"/>
<path d="M499.2 1006.25 L506.25 1025 L505.5 1034.4 L500 1036.7 L495.3 1031.25" stroke="#15122e" stroke-width="1.3" fill="none" stroke-linejoin="round"/>
<path d="M539.8 999 L540.6 1004.7 L551.6 1018 L564.8 1003.9 L551.6 976.6" stroke="#15122e" stroke-width="1.3" fill="none" stroke-linejoin="round"/>
<path d="M540.6 1059.4 L551.6 1046.9 L557.8 1059.4" stroke="#15122e" stroke-width="1.3" fill="none" stroke-linejoin="round"/>
<path d="M595.6 944 L606.1 933.9 L629.7 948.6 L606.1 961.6 L603 960" stroke="#15122e" stroke-width="1.3" fill="none" stroke-linejoin="round"/>
<g transform="rotate(-50 599 846.5)">
<text x="592.5" y="850.46" font-size="11" font-family="'Liberation Sans', 'DejaVu Sans', sans-serif" fill="#15122e" stroke="#15122e" stroke-width="0.25" textLength="13" lengthAdjust="spacingAndGlyphs" xml:space="preserve">.80</text>
</g>
<g transform="rotate(-15 608.5 861)">
<text x="602" y="864.96" font-size="11" font-family="'Liberation Sans', 'DejaVu Sans', sans-serif" fill="#15122e" stroke="#15122e" stroke-width="0.25" textLength="13" lengthAdjust="spacingAndGlyphs" xml:space="preserve">.60</text>
</g>
<g transform="rotate(35 654.5 847)">
<text x="648" y="850.96" font-size="11" font-family="'Liberation Sans', 'DejaVu Sans', sans-serif" fill="#15122e" stroke="#15122e" stroke-width="0.25" textLength="13" lengthAdjust="spacingAndGlyphs" xml:space="preserve">.60</text>
</g>
<g transform="rotate(-45 665 877.4)">
<text x="658.5" y="881.36" font-size="11" font-family="'Liberation Sans', 'DejaVu Sans', sans-serif" fill="#15122e" stroke="#15122e" stroke-width="0.25" textLength="13" lengthAdjust="spacingAndGlyphs" xml:space="preserve">.60</text>
</g>
<g transform="rotate(-60 537.5 923)">
<text x="531" y="926.96" font-size="11" font-family="'Liberation Sans', 'DejaVu Sans', sans-serif" fill="#15122e" stroke="#15122e" stroke-width="0.25" textLength="13" lengthAdjust="spacingAndGlyphs" xml:space="preserve">.80</text>
</g>
<g transform="rotate(-80 603 955)">
<text x="596.5" y="958.96" font-size="11" font-family="'Liberation Sans', 'DejaVu Sans', sans-serif" fill="#15122e" stroke="#15122e" stroke-width="0.25" textLength="13" lengthAdjust="spacingAndGlyphs" xml:space="preserve">.60</text>
</g>
<g transform="rotate(-55 655 944)">
<text x="648.5" y="947.96" font-size="11" font-family="'Liberation Sans', 'DejaVu Sans', sans-serif" fill="#15122e" stroke="#15122e" stroke-width="0.25" textLength="13" lengthAdjust="spacingAndGlyphs" xml:space="preserve">.80</text>
</g>
<g transform="rotate(-80 540.5 991)">
<text x="534" y="994.96" font-size="11" font-family="'Liberation Sans', 'DejaVu Sans', sans-serif" fill="#15122e" stroke="#15122e" stroke-width="0.25" textLength="13" lengthAdjust="spacingAndGlyphs" xml:space="preserve">.60</text>
</g>
<g transform="rotate(-80 480.5 1002.5)">
<text x="474" y="1006.46" font-size="11" font-family="'Liberation Sans', 'DejaVu Sans', sans-serif" fill="#15122e" stroke="#15122e" stroke-width="0.25" textLength="13" lengthAdjust="spacingAndGlyphs" xml:space="preserve">.80</text>
</g>
<g transform="rotate(0 504.5 998.6)">
<text x="498" y="1002.56" font-size="11" font-family="'Liberation Sans', 'DejaVu Sans', sans-serif" fill="#15122e" stroke="#15122e" stroke-width="0.25" textLength="13" lengthAdjust="spacingAndGlyphs" xml:space="preserve">.60</text>
</g>
<g transform="rotate(-80 491 1020.5)">
<text x="484.5" y="1024.46" font-size="11" font-family="'Liberation Sans', 'DejaVu Sans', sans-serif" fill="#15122e" stroke="#15122e" stroke-width="0.25" textLength="13" lengthAdjust="spacingAndGlyphs" xml:space="preserve">.40</text>
</g>
<g transform="rotate(-55 593 1019)">
<text x="586.5" y="1022.96" font-size="11" font-family="'Liberation Sans', 'DejaVu Sans', sans-serif" fill="#15122e" stroke="#15122e" stroke-width="0.25" textLength="13" lengthAdjust="spacingAndGlyphs" xml:space="preserve">.80</text>
</g>
<text x="384.5" y="1153.2" font-size="10.5" font-family="'Liberation Mono', 'DejaVu Sans Mono', monospace" fill="#15112a" stroke="#15112a" stroke-width="0.35" font-weight="bold" textLength="163.5" lengthAdjust="spacingAndGlyphs" xml:space="preserve">Variogram for 4SCOMP</text>
<rect x="290.6" y="1196.6" width="354" height="239.4" stroke="#1a1540" stroke-width="1.4" fill="none"/>
<line x1="290.6" y1="1436" x2="644.6" y2="1436" stroke="#2a1a8a" stroke-width="1.5"/>
<line x1="286.6" y1="1435.9" x2="290.6" y2="1435.9" stroke="#1a1540" stroke-width="1.2"/>
<line x1="286.6" y1="1398.93" x2="290.6" y2="1398.93" stroke="#1a1540" stroke-width="1.2"/>
<line x1="286.6" y1="1361.95" x2="290.6" y2="1361.95" stroke="#1a1540" stroke-width="1.2"/>
<line x1="286.6" y1="1324.98" x2="290.6" y2="1324.98" stroke="#1a1540" stroke-width="1.2"/>
<line x1="286.6" y1="1288" x2="290.6" y2="1288" stroke="#1a1540" stroke-width="1.2"/>
<line x1="286.6" y1="1251.03" x2="290.6" y2="1251.03" stroke="#1a1540" stroke-width="1.2"/>
<line x1="286.6" y1="1214.05" x2="290.6" y2="1214.05" stroke="#1a1540" stroke-width="1.2"/>
<line x1="290.7" y1="1436" x2="290.7" y2="1440" stroke="#1a1540" stroke-width="1.2"/>
<line x1="349.6" y1="1436" x2="349.6" y2="1440" stroke="#1a1540" stroke-width="1.2"/>
<line x1="408.5" y1="1436" x2="408.5" y2="1440" stroke="#1a1540" stroke-width="1.2"/>
<line x1="467.4" y1="1436" x2="467.4" y2="1440" stroke="#1a1540" stroke-width="1.2"/>
<line x1="526.3" y1="1436" x2="526.3" y2="1440" stroke="#1a1540" stroke-width="1.2"/>
<line x1="585.2" y1="1436" x2="585.2" y2="1440" stroke="#1a1540" stroke-width="1.2"/>
<line x1="644.1" y1="1436" x2="644.1" y2="1440" stroke="#1a1540" stroke-width="1.2"/>
<text x="258.35" y="1218.05" font-size="11" font-family="'Liberation Mono', 'DejaVu Sans Mono', monospace" fill="#15112a" stroke="#15112a" stroke-width="0.45" font-weight="bold" textLength="23.95" lengthAdjust="spacingAndGlyphs" xml:space="preserve">3.0</text>
<text x="258.35" y="1255.03" font-size="11" font-family="'Liberation Mono', 'DejaVu Sans Mono', monospace" fill="#15112a" stroke="#15112a" stroke-width="0.45" font-weight="bold" textLength="23.95" lengthAdjust="spacingAndGlyphs" xml:space="preserve">2.5</text>
<text x="258.35" y="1292" font-size="11" font-family="'Liberation Mono', 'DejaVu Sans Mono', monospace" fill="#15112a" stroke="#15112a" stroke-width="0.45" font-weight="bold" textLength="23.95" lengthAdjust="spacingAndGlyphs" xml:space="preserve">2.0</text>
<text x="258.35" y="1328.98" font-size="11" font-family="'Liberation Mono', 'DejaVu Sans Mono', monospace" fill="#15112a" stroke="#15112a" stroke-width="0.45" font-weight="bold" textLength="23.95" lengthAdjust="spacingAndGlyphs" xml:space="preserve">1.5</text>
<text x="258.35" y="1365.95" font-size="11" font-family="'Liberation Mono', 'DejaVu Sans Mono', monospace" fill="#15112a" stroke="#15112a" stroke-width="0.45" font-weight="bold" textLength="23.95" lengthAdjust="spacingAndGlyphs" xml:space="preserve">1.0</text>
<text x="266.5" y="1402.93" font-size="11" font-family="'Liberation Mono', 'DejaVu Sans Mono', monospace" fill="#15112a" stroke="#15112a" stroke-width="0.45" font-weight="bold" textLength="15.8" lengthAdjust="spacingAndGlyphs" xml:space="preserve">.5</text>
<text x="266.5" y="1439.9" font-size="11" font-family="'Liberation Mono', 'DejaVu Sans Mono', monospace" fill="#15112a" stroke="#15112a" stroke-width="0.45" font-weight="bold" textLength="15.8" lengthAdjust="spacingAndGlyphs" xml:space="preserve">.0</text>
<text x="286" y="1452.3" font-size="11" font-family="'Liberation Mono', 'DejaVu Sans Mono', monospace" fill="#15112a" stroke="#15112a" stroke-width="0.45" font-weight="bold" textLength="13.2" lengthAdjust="spacingAndGlyphs" xml:space="preserve">0.</text>
<text x="336.5" y="1452.3" font-size="11" font-family="'Liberation Mono', 'DejaVu Sans Mono', monospace" fill="#15112a" stroke="#15112a" stroke-width="0.45" font-weight="bold" textLength="21.3" lengthAdjust="spacingAndGlyphs" xml:space="preserve">40.</text>
<text x="393" y="1452.3" font-size="11" font-family="'Liberation Mono', 'DejaVu Sans Mono', monospace" fill="#15112a" stroke="#15112a" stroke-width="0.45" font-weight="bold" textLength="21.3" lengthAdjust="spacingAndGlyphs" xml:space="preserve">80.</text>
<text x="455" y="1452.3" font-size="11" font-family="'Liberation Mono', 'DejaVu Sans Mono', monospace" fill="#15112a" stroke="#15112a" stroke-width="0.45" font-weight="bold" textLength="29.4" lengthAdjust="spacingAndGlyphs" xml:space="preserve">120.</text>
<text x="509.5" y="1452.3" font-size="11" font-family="'Liberation Mono', 'DejaVu Sans Mono', monospace" fill="#15112a" stroke="#15112a" stroke-width="0.45" font-weight="bold" textLength="29.4" lengthAdjust="spacingAndGlyphs" xml:space="preserve">160.</text>
<text x="566" y="1452.3" font-size="11" font-family="'Liberation Mono', 'DejaVu Sans Mono', monospace" fill="#15112a" stroke="#15112a" stroke-width="0.45" font-weight="bold" textLength="29.4" lengthAdjust="spacingAndGlyphs" xml:space="preserve">200.</text>
<text x="627.3" y="1452.3" font-size="11" font-family="'Liberation Mono', 'DejaVu Sans Mono', monospace" fill="#15112a" stroke="#15112a" stroke-width="0.45" font-weight="bold" textLength="29.4" lengthAdjust="spacingAndGlyphs" xml:space="preserve">240.</text>
<text x="202.8" y="1352.7" font-size="11" font-family="'Liberation Mono', 'DejaVu Sans Mono', monospace" fill="#15112a" stroke="#15112a" stroke-width="0.45" font-weight="bold" textLength="73" lengthAdjust="spacingAndGlyphs" transform="rotate(-90 202.8 1352.7)" xml:space="preserve">Variogram</text>
<text x="433" y="1475" font-size="11" font-family="'Liberation Mono', 'DejaVu Sans Mono', monospace" fill="#15112a" stroke="#15112a" stroke-width="0.45" font-weight="bold" textLength="64" lengthAdjust="spacingAndGlyphs" xml:space="preserve">Distance</text>
<path d="M290.75 1435.9 L294.5 1426 L298.75 1416.5 L304 1409 L308.5 1402.25 L315.25 1391 L320 1386.5 L323.5 1384.25 L326.5 1383.3 L644.6 1383.3" stroke="#e0203c" stroke-width="1.5" fill="none" stroke-linejoin="round"/>
<path d="M301.9 1376.15h5.2v5.2h-5.2zM301.9 1376.15l5.2 5.2M307.1 1376.15l-5.2 5.2" stroke="#267a30" stroke-width="1.3" fill="#7fb584"/>
<path d="M317.4 1394.4h5.2v5.2h-5.2zM317.4 1394.4l5.2 5.2M322.6 1394.4l-5.2 5.2" stroke="#267a30" stroke-width="1.3" fill="#7fb584"/>
<path d="M329.15 1393.65h5.2v5.2h-5.2zM329.15 1393.65l5.2 5.2M334.35 1393.65l-5.2 5.2" stroke="#267a30" stroke-width="1.3" fill="#7fb584"/>
<path d="M348.65 1389.9h5.2v5.2h-5.2zM348.65 1389.9l5.2 5.2M353.85 1389.9l-5.2 5.2" stroke="#267a30" stroke-width="1.3" fill="#7fb584"/>
<path d="M368.15 1377.4h5.2v5.2h-5.2zM368.15 1377.4l5.2 5.2M373.35 1377.4l-5.2 5.2" stroke="#267a30" stroke-width="1.3" fill="#7fb584"/>
<path d="M382.4 1388.65h5.2v5.2h-5.2zM382.4 1388.65l5.2 5.2M387.6 1388.65l-5.2 5.2" stroke="#267a30" stroke-width="1.3" fill="#7fb584"/>
<path d="M403.15 1380.4h5.2v5.2h-5.2zM403.15 1380.4l5.2 5.2M408.35 1380.4l-5.2 5.2" stroke="#267a30" stroke-width="1.3" fill="#7fb584"/>
<path d="M414.9 1391.15h5.2v5.2h-5.2zM414.9 1391.15l5.2 5.2M420.1 1391.15l-5.2 5.2" stroke="#267a30" stroke-width="1.3" fill="#7fb584"/>
<path d="M434.4 1391.15h5.2v5.2h-5.2zM434.4 1391.15l5.2 5.2M439.6 1391.15l-5.2 5.2" stroke="#267a30" stroke-width="1.3" fill="#7fb584"/>
<path d="M450.4 1377.4h5.2v5.2h-5.2zM450.4 1377.4l5.2 5.2M455.6 1377.4l-5.2 5.2" stroke="#267a30" stroke-width="1.3" fill="#7fb584"/>
<path d="M468.15 1393.15h5.2v5.2h-5.2zM468.15 1393.15l5.2 5.2M473.35 1393.15l-5.2 5.2" stroke="#267a30" stroke-width="1.3" fill="#7fb584"/>
<path d="M489.2 1353.2h5.2v5.2h-5.2zM489.2 1353.2l5.2 5.2M494.4 1353.2l-5.2 5.2" stroke="#267a30" stroke-width="1.3" fill="#7fb584"/>
<path d="M501.8 1368.3h5.2v5.2h-5.2zM501.8 1368.3l5.2 5.2M507 1368.3l-5.2 5.2" stroke="#267a30" stroke-width="1.3" fill="#7fb584"/>
<path d="M523.65 1354.8h5.2v5.2h-5.2zM523.65 1354.8l5.2 5.2M528.85 1354.8l-5.2 5.2" stroke="#267a30" stroke-width="1.3" fill="#7fb584"/>
<path d="M538.3 1340.6h5.2v5.2h-5.2zM538.3 1340.6l5.2 5.2M543.5 1340.6l-5.2 5.2" stroke="#267a30" stroke-width="1.3" fill="#7fb584"/>
<path d="M556.3 1382.9h5.2v5.2h-5.2zM556.3 1382.9l5.2 5.2M561.5 1382.9l-5.2 5.2" stroke="#267a30" stroke-width="1.3" fill="#7fb584"/>
<path d="M573.15 1373.4h5.2v5.2h-5.2zM573.15 1373.4l5.2 5.2M578.35 1373.4l-5.2 5.2" stroke="#267a30" stroke-width="1.3" fill="#7fb584"/>
<path d="M588.9 1372.8h5.2v5.2h-5.2zM588.9 1372.8l5.2 5.2M594.1 1372.8l-5.2 5.2" stroke="#267a30" stroke-width="1.3" fill="#7fb584"/>
<path d="M607.4 1361.1h5.2v5.2h-5.2zM607.4 1361.1l5.2 5.2M612.6 1361.1l-5.2 5.2" stroke="#267a30" stroke-width="1.3" fill="#7fb584"/>
<path d="M625.4 1228.1h5.2v5.2h-5.2zM625.4 1228.1l5.2 5.2M630.6 1228.1l-5.2 5.2" stroke="#267a30" stroke-width="1.3" fill="#7fb584"/>
</svg>
</body></html>
